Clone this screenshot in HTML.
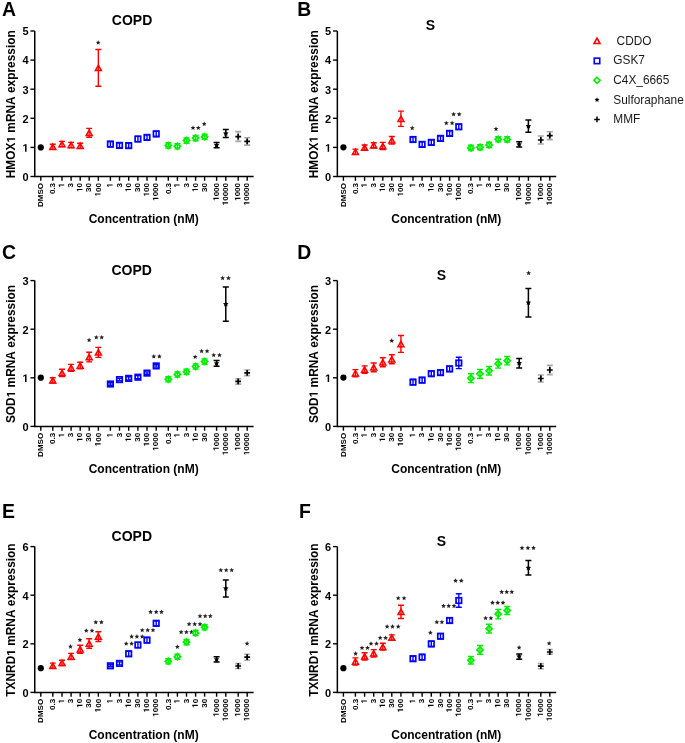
<!DOCTYPE html>
<html><head><meta charset="utf-8"><style>
html,body{margin:0;padding:0;background:#fff;}
body{width:685px;height:743px;overflow:hidden;}
svg{display:block;font-family:"Liberation Sans", sans-serif;will-change:transform;font-kerning:none;filter:blur(0.3px);}
text{white-space:pre;}
</style></head><body>
<svg width="685" height="743" viewBox="0 0 685 743">
<rect width="685" height="743" fill="#fff"/>
<text x="2" y="15.8" font-size="19.4" font-weight="bold">A</text>
<text x="132.1" y="25" font-size="14" font-weight="bold" text-anchor="middle">COPD</text>
<g transform="translate(15.1 104.25) rotate(-90)" font-size="11.9" font-weight="bold"><text x="-74.06" y="0">HMOX</text><path transform="translate(-38.36 0) scale(0.00581 -0.00581)" d="M478 0V1170L140 959V1180L493 1409H759V0Z"/><text x="-31.75" y="0"> mRNA expression</text></g>
<path d="M34.75 31V176.5H253.6" stroke="#000" stroke-width="1.5" fill="none"/>
<path d="M30.45 176.5H34.75" stroke="#000" stroke-width="1.4"/>
<g transform="translate(28.6 180.8)" font-size="11" font-weight="bold"><text x="-6.12" y="0">0</text></g>
<path d="M30.45 147.4H34.75" stroke="#000" stroke-width="1.4"/>
<g transform="translate(28.6 151.7)" font-size="11" font-weight="bold"><path transform="translate(-6.12 0) scale(0.00537 -0.00537)" d="M478 0V1170L140 959V1180L493 1409H759V0Z"/></g>
<path d="M30.45 118.3H34.75" stroke="#000" stroke-width="1.4"/>
<g transform="translate(28.6 122.6)" font-size="11" font-weight="bold"><text x="-6.12" y="0">2</text></g>
<path d="M30.45 89.2H34.75" stroke="#000" stroke-width="1.4"/>
<g transform="translate(28.6 93.5)" font-size="11" font-weight="bold"><text x="-6.12" y="0">3</text></g>
<path d="M30.45 60.1H34.75" stroke="#000" stroke-width="1.4"/>
<g transform="translate(28.6 64.4)" font-size="11" font-weight="bold"><text x="-6.12" y="0">4</text></g>
<path d="M30.45 31H34.75" stroke="#000" stroke-width="1.4"/>
<g transform="translate(28.6 35.3)" font-size="11" font-weight="bold"><text x="-6.12" y="0">5</text></g>
<path d="M40.8 176.5V180.8" stroke="#000" stroke-width="1.4"/>
<g transform="translate(43 183) rotate(-90)" font-size="8" font-weight="bold"><text x="-24" y="0">DMSO</text></g>
<path d="M52.8 176.5V180.8" stroke="#000" stroke-width="1.4"/>
<g transform="translate(55 183) rotate(-90)" font-size="8" font-weight="bold"><text x="-11.12" y="0">0.3</text></g>
<path d="M62 176.5V180.8" stroke="#000" stroke-width="1.4"/>
<g transform="translate(64.2 183) rotate(-90)" font-size="8" font-weight="bold"><path transform="translate(-4.45 0) scale(0.00391 -0.00391)" d="M478 0V1170L140 959V1180L493 1409H759V0Z"/></g>
<path d="M71.1 176.5V180.8" stroke="#000" stroke-width="1.4"/>
<g transform="translate(73.3 183) rotate(-90)" font-size="8" font-weight="bold"><text x="-4.45" y="0">3</text></g>
<path d="M80.2 176.5V180.8" stroke="#000" stroke-width="1.4"/>
<g transform="translate(82.4 183) rotate(-90)" font-size="8" font-weight="bold"><path transform="translate(-8.9 0) scale(0.00391 -0.00391)" d="M478 0V1170L140 959V1180L493 1409H759V0Z"/><text x="-4.45" y="0">0</text></g>
<path d="M89.2 176.5V180.8" stroke="#000" stroke-width="1.4"/>
<g transform="translate(91.4 183) rotate(-90)" font-size="8" font-weight="bold"><text x="-8.9" y="0">30</text></g>
<path d="M98.35 176.5V180.8" stroke="#000" stroke-width="1.4"/>
<g transform="translate(100.55 183) rotate(-90)" font-size="8" font-weight="bold"><path transform="translate(-13.35 0) scale(0.00391 -0.00391)" d="M478 0V1170L140 959V1180L493 1409H759V0Z"/><text x="-8.9" y="0">00</text></g>
<path d="M110.4 176.5V180.8" stroke="#000" stroke-width="1.4"/>
<g transform="translate(112.6 183) rotate(-90)" font-size="8" font-weight="bold"><path transform="translate(-4.45 0) scale(0.00391 -0.00391)" d="M478 0V1170L140 959V1180L493 1409H759V0Z"/></g>
<path d="M119.5 176.5V180.8" stroke="#000" stroke-width="1.4"/>
<g transform="translate(121.7 183) rotate(-90)" font-size="8" font-weight="bold"><text x="-4.45" y="0">3</text></g>
<path d="M128.7 176.5V180.8" stroke="#000" stroke-width="1.4"/>
<g transform="translate(130.9 183) rotate(-90)" font-size="8" font-weight="bold"><path transform="translate(-8.9 0) scale(0.00391 -0.00391)" d="M478 0V1170L140 959V1180L493 1409H759V0Z"/><text x="-4.45" y="0">0</text></g>
<path d="M137.9 176.5V180.8" stroke="#000" stroke-width="1.4"/>
<g transform="translate(140.1 183) rotate(-90)" font-size="8" font-weight="bold"><text x="-8.9" y="0">30</text></g>
<path d="M147 176.5V180.8" stroke="#000" stroke-width="1.4"/>
<g transform="translate(149.2 183) rotate(-90)" font-size="8" font-weight="bold"><path transform="translate(-13.35 0) scale(0.00391 -0.00391)" d="M478 0V1170L140 959V1180L493 1409H759V0Z"/><text x="-8.9" y="0">00</text></g>
<path d="M156.2 176.5V180.8" stroke="#000" stroke-width="1.4"/>
<g transform="translate(158.4 183) rotate(-90)" font-size="8" font-weight="bold"><path transform="translate(-17.8 0) scale(0.00391 -0.00391)" d="M478 0V1170L140 959V1180L493 1409H759V0Z"/><text x="-13.35" y="0">000</text></g>
<path d="M168.3 176.5V180.8" stroke="#000" stroke-width="1.4"/>
<g transform="translate(170.5 183) rotate(-90)" font-size="8" font-weight="bold"><text x="-11.12" y="0">0.3</text></g>
<path d="M177.4 176.5V180.8" stroke="#000" stroke-width="1.4"/>
<g transform="translate(179.6 183) rotate(-90)" font-size="8" font-weight="bold"><path transform="translate(-4.45 0) scale(0.00391 -0.00391)" d="M478 0V1170L140 959V1180L493 1409H759V0Z"/></g>
<path d="M186.5 176.5V180.8" stroke="#000" stroke-width="1.4"/>
<g transform="translate(188.7 183) rotate(-90)" font-size="8" font-weight="bold"><text x="-4.45" y="0">3</text></g>
<path d="M195.6 176.5V180.8" stroke="#000" stroke-width="1.4"/>
<g transform="translate(197.8 183) rotate(-90)" font-size="8" font-weight="bold"><path transform="translate(-8.9 0) scale(0.00391 -0.00391)" d="M478 0V1170L140 959V1180L493 1409H759V0Z"/><text x="-4.45" y="0">0</text></g>
<path d="M204.6 176.5V180.8" stroke="#000" stroke-width="1.4"/>
<g transform="translate(206.8 183) rotate(-90)" font-size="8" font-weight="bold"><text x="-8.9" y="0">30</text></g>
<path d="M216.6 176.5V180.8" stroke="#000" stroke-width="1.4"/>
<g transform="translate(218.8 183) rotate(-90)" font-size="8" font-weight="bold"><path transform="translate(-17.8 0) scale(0.00391 -0.00391)" d="M478 0V1170L140 959V1180L493 1409H759V0Z"/><text x="-13.35" y="0">000</text></g>
<path d="M225.8 176.5V180.8" stroke="#000" stroke-width="1.4"/>
<g transform="translate(228 183) rotate(-90)" font-size="8" font-weight="bold"><path transform="translate(-22.25 0) scale(0.00391 -0.00391)" d="M478 0V1170L140 959V1180L493 1409H759V0Z"/><text x="-17.8" y="0">0000</text></g>
<path d="M238.2 176.5V180.8" stroke="#000" stroke-width="1.4"/>
<g transform="translate(240.4 183) rotate(-90)" font-size="8" font-weight="bold"><path transform="translate(-17.8 0) scale(0.00391 -0.00391)" d="M478 0V1170L140 959V1180L493 1409H759V0Z"/><text x="-13.35" y="0">000</text></g>
<path d="M247.2 176.5V180.8" stroke="#000" stroke-width="1.4"/>
<g transform="translate(249.4 183) rotate(-90)" font-size="8" font-weight="bold"><path transform="translate(-22.25 0) scale(0.00391 -0.00391)" d="M478 0V1170L140 959V1180L493 1409H759V0Z"/><text x="-17.8" y="0">0000</text></g>
<text x="143.7" y="223" font-size="12" font-weight="bold" text-anchor="middle">Concentration (nM)</text>
<circle cx="40.8" cy="147.4" r="3.1" fill="#000"/>
<path d="M52.8 144.1L55.8 149.5L49.8 149.5Z" stroke="#ff0000" stroke-width="1.5" fill="#fff" stroke-linejoin="miter"/>
<path d="M52.8 144.2V149.4M49.8 144.2H55.8M49.8 149.4H55.8" stroke="#ff0000" stroke-width="1.4" fill="none"/>
<path d="M62 141.3L65 146.7L59 146.7Z" stroke="#ff0000" stroke-width="1.5" fill="#fff" stroke-linejoin="miter"/>
<path d="M62 141.4V146.6M59 141.4H65M59 146.6H65" stroke="#ff0000" stroke-width="1.4" fill="none"/>
<path d="M71.1 142.3L74.1 147.7L68.1 147.7Z" stroke="#ff0000" stroke-width="1.5" fill="#fff" stroke-linejoin="miter"/>
<path d="M71.1 142.4V147.6M68.1 142.4H74.1M68.1 147.6H74.1" stroke="#ff0000" stroke-width="1.4" fill="none"/>
<path d="M80.2 143.1L83.2 148.5L77.2 148.5Z" stroke="#ff0000" stroke-width="1.5" fill="#fff" stroke-linejoin="miter"/>
<path d="M80.2 143.2V148.4M77.2 143.2H83.2M77.2 148.4H83.2" stroke="#ff0000" stroke-width="1.4" fill="none"/>
<path d="M89.2 130.1L92.2 135.5L86.2 135.5Z" stroke="#ff0000" stroke-width="1.5" fill="#fff" stroke-linejoin="miter"/>
<path d="M89.2 128.4V137.2M86.2 128.4H92.2M86.2 137.2H92.2" stroke="#ff0000" stroke-width="1.4" fill="none"/>
<path d="M98.35 65.2L101.35 70.6L95.35 70.6Z" stroke="#ff0000" stroke-width="1.5" fill="#fff" stroke-linejoin="miter"/>
<path d="M98.35 49.5V86.3M95.35 49.5H101.35M95.35 86.3H101.35" stroke="#ff0000" stroke-width="1.4" fill="none"/>
<polygon points="98.2,40.18 98.88,41.76 100.6,41.92 99.3,43.06 99.68,44.74 98.2,43.86 96.72,44.74 97.1,43.06 95.8,41.92 97.52,41.76" fill="#222222"/>
<rect x="107.65" y="141.35" width="5.5" height="5.5" stroke="#0000ff" stroke-width="1.7" fill="#fff"/>
<path d="M110.4 141.5V146.7M107.4 141.5H113.4M107.4 146.7H113.4" stroke="#0000ff" stroke-width="1.4" fill="none"/>
<rect x="116.75" y="142.65" width="5.5" height="5.5" stroke="#0000ff" stroke-width="1.7" fill="#fff"/>
<path d="M119.5 142.8V148M116.5 142.8H122.5M116.5 148H122.5" stroke="#0000ff" stroke-width="1.4" fill="none"/>
<rect x="125.95" y="142.85" width="5.5" height="5.5" stroke="#0000ff" stroke-width="1.7" fill="#fff"/>
<path d="M128.7 143V148.2M125.7 143H131.7M125.7 148.2H131.7" stroke="#0000ff" stroke-width="1.4" fill="none"/>
<rect x="135.15" y="136.25" width="5.5" height="5.5" stroke="#0000ff" stroke-width="1.7" fill="#fff"/>
<path d="M137.9 136.4V141.6M134.9 136.4H140.9M134.9 141.6H140.9" stroke="#0000ff" stroke-width="1.4" fill="none"/>
<rect x="144.25" y="134.65" width="5.5" height="5.5" stroke="#0000ff" stroke-width="1.7" fill="#fff"/>
<path d="M147 134.8V140M144 134.8H150M144 140H150" stroke="#0000ff" stroke-width="1.4" fill="none"/>
<rect x="153.45" y="131.15" width="5.5" height="5.5" stroke="#0000ff" stroke-width="1.7" fill="#fff"/>
<path d="M156.2 131.3V136.5M153.2 131.3H159.2M153.2 136.5H159.2" stroke="#0000ff" stroke-width="1.4" fill="none"/>
<path d="M168.3 142.4L171.3 145.4L168.3 148.4L165.3 145.4Z" stroke="#00f000" stroke-width="1.8" fill="#fff"/>
<path d="M168.3 142.8V148M165.3 142.8H171.3M165.3 148H171.3" stroke="#00f000" stroke-width="1.4" fill="none"/>
<path d="M177.4 143.3L180.4 146.3L177.4 149.3L174.4 146.3Z" stroke="#00f000" stroke-width="1.8" fill="#fff"/>
<path d="M177.4 143.7V148.9M174.4 143.7H180.4M174.4 148.9H180.4" stroke="#00f000" stroke-width="1.4" fill="none"/>
<path d="M186.5 137.6L189.5 140.6L186.5 143.6L183.5 140.6Z" stroke="#00f000" stroke-width="1.8" fill="#fff"/>
<path d="M186.5 138V143.2M183.5 138H189.5M183.5 143.2H189.5" stroke="#00f000" stroke-width="1.4" fill="none"/>
<path d="M195.6 135.1L198.6 138.1L195.6 141.1L192.6 138.1Z" stroke="#00f000" stroke-width="1.8" fill="#fff"/>
<path d="M195.6 135.5V140.7M192.6 135.5H198.6M192.6 140.7H198.6" stroke="#00f000" stroke-width="1.4" fill="none"/>
<polygon points="193,125.38 193.68,126.96 195.4,127.12 194.1,128.26 194.48,129.94 193,129.06 191.52,129.94 191.9,128.26 190.6,127.12 192.32,126.96" fill="#222222"/>
<polygon points="198.3,125.38 198.98,126.96 200.7,127.12 199.4,128.26 199.78,129.94 198.3,129.06 196.82,129.94 197.2,128.26 195.9,127.12 197.62,126.96" fill="#222222"/>
<path d="M204.6 133.8L207.6 136.8L204.6 139.8L201.6 136.8Z" stroke="#00f000" stroke-width="1.8" fill="#fff"/>
<path d="M204.6 134.2V139.4M201.6 134.2H207.6M201.6 139.4H207.6" stroke="#00f000" stroke-width="1.4" fill="none"/>
<polygon points="204.2,121.48 204.88,123.06 206.6,123.22 205.3,124.36 205.68,126.04 204.2,125.16 202.72,126.04 203.1,124.36 201.8,123.22 203.52,123.06" fill="#222222"/>
<path d="M216.6 142.6V147.8M213.6 142.6H219.6M213.6 147.8H219.6" stroke="#000000" stroke-width="1.5" fill="none"/>
<polygon points="216.6,142.3 217.45,144.03 219.36,144.3 217.98,145.65 218.3,147.55 216.6,146.65 214.9,147.55 215.22,145.65 213.84,144.3 215.75,144.03" fill="#000"/>
<path d="M225.8 129.4V137.6M222.8 129.4H228.8M222.8 137.6H228.8" stroke="#000000" stroke-width="1.5" fill="none"/>
<polygon points="225.8,130.6 226.65,132.33 228.56,132.6 227.18,133.95 227.5,135.85 225.8,134.95 224.1,135.85 224.42,133.95 223.04,132.6 224.95,132.33" fill="#000"/>
<path d="M238.2 131.6V141.4M235.2 131.6H241.2M235.2 141.4H241.2" stroke="#a8a8a8" stroke-width="1.6" fill="none"/>
<path d="M235.3 136.6H241.1M238.2 133.7V139.5" stroke="#000" stroke-width="1.7"/>
<path d="M247.2 137.7V145.1M244.2 137.7H250.2M244.2 145.1H250.2" stroke="#a8a8a8" stroke-width="1.6" fill="none"/>
<path d="M244.3 141.4H250.1M247.2 138.5V144.3" stroke="#000" stroke-width="1.7"/>
<text x="297.3" y="16" font-size="19.4" font-weight="bold">B</text>
<text x="430.3" y="30.2" font-size="14" font-weight="bold" text-anchor="middle">S</text>
<g transform="translate(317.7 104.25) rotate(-90)" font-size="11.9" font-weight="bold"><text x="-74.06" y="0">HMOX</text><path transform="translate(-38.36 0) scale(0.00581 -0.00581)" d="M478 0V1170L140 959V1180L493 1409H759V0Z"/><text x="-31.75" y="0"> mRNA expression</text></g>
<path d="M337.35 31V176.5H556.2" stroke="#000" stroke-width="1.5" fill="none"/>
<path d="M333.05 176.5H337.35" stroke="#000" stroke-width="1.4"/>
<g transform="translate(331.2 180.8)" font-size="11" font-weight="bold"><text x="-6.12" y="0">0</text></g>
<path d="M333.05 147.4H337.35" stroke="#000" stroke-width="1.4"/>
<g transform="translate(331.2 151.7)" font-size="11" font-weight="bold"><path transform="translate(-6.12 0) scale(0.00537 -0.00537)" d="M478 0V1170L140 959V1180L493 1409H759V0Z"/></g>
<path d="M333.05 118.3H337.35" stroke="#000" stroke-width="1.4"/>
<g transform="translate(331.2 122.6)" font-size="11" font-weight="bold"><text x="-6.12" y="0">2</text></g>
<path d="M333.05 89.2H337.35" stroke="#000" stroke-width="1.4"/>
<g transform="translate(331.2 93.5)" font-size="11" font-weight="bold"><text x="-6.12" y="0">3</text></g>
<path d="M333.05 60.1H337.35" stroke="#000" stroke-width="1.4"/>
<g transform="translate(331.2 64.4)" font-size="11" font-weight="bold"><text x="-6.12" y="0">4</text></g>
<path d="M333.05 31H337.35" stroke="#000" stroke-width="1.4"/>
<g transform="translate(331.2 35.3)" font-size="11" font-weight="bold"><text x="-6.12" y="0">5</text></g>
<path d="M343.4 176.5V180.8" stroke="#000" stroke-width="1.4"/>
<g transform="translate(345.6 183) rotate(-90)" font-size="8" font-weight="bold"><text x="-24" y="0">DMSO</text></g>
<path d="M355.4 176.5V180.8" stroke="#000" stroke-width="1.4"/>
<g transform="translate(357.6 183) rotate(-90)" font-size="8" font-weight="bold"><text x="-11.12" y="0">0.3</text></g>
<path d="M364.6 176.5V180.8" stroke="#000" stroke-width="1.4"/>
<g transform="translate(366.8 183) rotate(-90)" font-size="8" font-weight="bold"><path transform="translate(-4.45 0) scale(0.00391 -0.00391)" d="M478 0V1170L140 959V1180L493 1409H759V0Z"/></g>
<path d="M373.7 176.5V180.8" stroke="#000" stroke-width="1.4"/>
<g transform="translate(375.9 183) rotate(-90)" font-size="8" font-weight="bold"><text x="-4.45" y="0">3</text></g>
<path d="M382.8 176.5V180.8" stroke="#000" stroke-width="1.4"/>
<g transform="translate(385 183) rotate(-90)" font-size="8" font-weight="bold"><path transform="translate(-8.9 0) scale(0.00391 -0.00391)" d="M478 0V1170L140 959V1180L493 1409H759V0Z"/><text x="-4.45" y="0">0</text></g>
<path d="M391.8 176.5V180.8" stroke="#000" stroke-width="1.4"/>
<g transform="translate(394 183) rotate(-90)" font-size="8" font-weight="bold"><text x="-8.9" y="0">30</text></g>
<path d="M400.95 176.5V180.8" stroke="#000" stroke-width="1.4"/>
<g transform="translate(403.15 183) rotate(-90)" font-size="8" font-weight="bold"><path transform="translate(-13.35 0) scale(0.00391 -0.00391)" d="M478 0V1170L140 959V1180L493 1409H759V0Z"/><text x="-8.9" y="0">00</text></g>
<path d="M413 176.5V180.8" stroke="#000" stroke-width="1.4"/>
<g transform="translate(415.2 183) rotate(-90)" font-size="8" font-weight="bold"><path transform="translate(-4.45 0) scale(0.00391 -0.00391)" d="M478 0V1170L140 959V1180L493 1409H759V0Z"/></g>
<path d="M422.1 176.5V180.8" stroke="#000" stroke-width="1.4"/>
<g transform="translate(424.3 183) rotate(-90)" font-size="8" font-weight="bold"><text x="-4.45" y="0">3</text></g>
<path d="M431.3 176.5V180.8" stroke="#000" stroke-width="1.4"/>
<g transform="translate(433.5 183) rotate(-90)" font-size="8" font-weight="bold"><path transform="translate(-8.9 0) scale(0.00391 -0.00391)" d="M478 0V1170L140 959V1180L493 1409H759V0Z"/><text x="-4.45" y="0">0</text></g>
<path d="M440.5 176.5V180.8" stroke="#000" stroke-width="1.4"/>
<g transform="translate(442.7 183) rotate(-90)" font-size="8" font-weight="bold"><text x="-8.9" y="0">30</text></g>
<path d="M449.6 176.5V180.8" stroke="#000" stroke-width="1.4"/>
<g transform="translate(451.8 183) rotate(-90)" font-size="8" font-weight="bold"><path transform="translate(-13.35 0) scale(0.00391 -0.00391)" d="M478 0V1170L140 959V1180L493 1409H759V0Z"/><text x="-8.9" y="0">00</text></g>
<path d="M458.8 176.5V180.8" stroke="#000" stroke-width="1.4"/>
<g transform="translate(461 183) rotate(-90)" font-size="8" font-weight="bold"><path transform="translate(-17.8 0) scale(0.00391 -0.00391)" d="M478 0V1170L140 959V1180L493 1409H759V0Z"/><text x="-13.35" y="0">000</text></g>
<path d="M470.9 176.5V180.8" stroke="#000" stroke-width="1.4"/>
<g transform="translate(473.1 183) rotate(-90)" font-size="8" font-weight="bold"><text x="-11.12" y="0">0.3</text></g>
<path d="M480 176.5V180.8" stroke="#000" stroke-width="1.4"/>
<g transform="translate(482.2 183) rotate(-90)" font-size="8" font-weight="bold"><path transform="translate(-4.45 0) scale(0.00391 -0.00391)" d="M478 0V1170L140 959V1180L493 1409H759V0Z"/></g>
<path d="M489.1 176.5V180.8" stroke="#000" stroke-width="1.4"/>
<g transform="translate(491.3 183) rotate(-90)" font-size="8" font-weight="bold"><text x="-4.45" y="0">3</text></g>
<path d="M498.2 176.5V180.8" stroke="#000" stroke-width="1.4"/>
<g transform="translate(500.4 183) rotate(-90)" font-size="8" font-weight="bold"><path transform="translate(-8.9 0) scale(0.00391 -0.00391)" d="M478 0V1170L140 959V1180L493 1409H759V0Z"/><text x="-4.45" y="0">0</text></g>
<path d="M507.2 176.5V180.8" stroke="#000" stroke-width="1.4"/>
<g transform="translate(509.4 183) rotate(-90)" font-size="8" font-weight="bold"><text x="-8.9" y="0">30</text></g>
<path d="M519.2 176.5V180.8" stroke="#000" stroke-width="1.4"/>
<g transform="translate(521.4 183) rotate(-90)" font-size="8" font-weight="bold"><path transform="translate(-17.8 0) scale(0.00391 -0.00391)" d="M478 0V1170L140 959V1180L493 1409H759V0Z"/><text x="-13.35" y="0">000</text></g>
<path d="M528.4 176.5V180.8" stroke="#000" stroke-width="1.4"/>
<g transform="translate(530.6 183) rotate(-90)" font-size="8" font-weight="bold"><path transform="translate(-22.25 0) scale(0.00391 -0.00391)" d="M478 0V1170L140 959V1180L493 1409H759V0Z"/><text x="-17.8" y="0">0000</text></g>
<path d="M540.8 176.5V180.8" stroke="#000" stroke-width="1.4"/>
<g transform="translate(543 183) rotate(-90)" font-size="8" font-weight="bold"><path transform="translate(-17.8 0) scale(0.00391 -0.00391)" d="M478 0V1170L140 959V1180L493 1409H759V0Z"/><text x="-13.35" y="0">000</text></g>
<path d="M549.8 176.5V180.8" stroke="#000" stroke-width="1.4"/>
<g transform="translate(552 183) rotate(-90)" font-size="8" font-weight="bold"><path transform="translate(-22.25 0) scale(0.00391 -0.00391)" d="M478 0V1170L140 959V1180L493 1409H759V0Z"/><text x="-17.8" y="0">0000</text></g>
<text x="446.3" y="223" font-size="12" font-weight="bold" text-anchor="middle">Concentration (nM)</text>
<circle cx="343.4" cy="147.3" r="3.1" fill="#000"/>
<path d="M355.4 149L358.4 154.4L352.4 154.4Z" stroke="#ff0000" stroke-width="1.5" fill="#fff" stroke-linejoin="miter"/>
<path d="M355.4 149.1V154.3M352.4 149.1H358.4M352.4 154.3H358.4" stroke="#ff0000" stroke-width="1.4" fill="none"/>
<path d="M364.6 144.9L367.6 150.3L361.6 150.3Z" stroke="#ff0000" stroke-width="1.5" fill="#fff" stroke-linejoin="miter"/>
<path d="M364.6 145V150.2M361.6 145H367.6M361.6 150.2H367.6" stroke="#ff0000" stroke-width="1.4" fill="none"/>
<path d="M373.7 142.6L376.7 148L370.7 148Z" stroke="#ff0000" stroke-width="1.5" fill="#fff" stroke-linejoin="miter"/>
<path d="M373.7 142.7V147.9M370.7 142.7H376.7M370.7 147.9H376.7" stroke="#ff0000" stroke-width="1.4" fill="none"/>
<path d="M382.8 143.4L385.8 148.8L379.8 148.8Z" stroke="#ff0000" stroke-width="1.5" fill="#fff" stroke-linejoin="miter"/>
<path d="M382.8 142.4V149.6M379.8 142.4H385.8M379.8 149.6H385.8" stroke="#ff0000" stroke-width="1.4" fill="none"/>
<path d="M391.8 137.7L394.8 143.1L388.8 143.1Z" stroke="#ff0000" stroke-width="1.5" fill="#fff" stroke-linejoin="miter"/>
<path d="M391.8 136.5V144.1M388.8 136.5H394.8M388.8 144.1H394.8" stroke="#ff0000" stroke-width="1.4" fill="none"/>
<path d="M400.95 116.1L403.95 121.5L397.95 121.5Z" stroke="#ff0000" stroke-width="1.5" fill="#fff" stroke-linejoin="miter"/>
<path d="M400.95 111.1V126.4M397.95 111.1H403.95M397.95 126.4H403.95" stroke="#ff0000" stroke-width="1.4" fill="none"/>
<rect x="410.25" y="136.75" width="5.5" height="5.5" stroke="#0000ff" stroke-width="1.7" fill="#fff"/>
<path d="M413 136.9V142.1M410 136.9H416M410 142.1H416" stroke="#0000ff" stroke-width="1.4" fill="none"/>
<polygon points="412.2,125.58 412.88,127.16 414.6,127.32 413.3,128.46 413.68,130.14 412.2,129.26 410.72,130.14 411.1,128.46 409.8,127.32 411.52,127.16" fill="#222222"/>
<rect x="419.35" y="141.65" width="5.5" height="5.5" stroke="#0000ff" stroke-width="1.7" fill="#fff"/>
<path d="M422.1 141.8V147M419.1 141.8H425.1M419.1 147H425.1" stroke="#0000ff" stroke-width="1.4" fill="none"/>
<rect x="428.55" y="139.65" width="5.5" height="5.5" stroke="#0000ff" stroke-width="1.7" fill="#fff"/>
<path d="M431.3 139.8V145M428.3 139.8H434.3M428.3 145H434.3" stroke="#0000ff" stroke-width="1.4" fill="none"/>
<rect x="437.75" y="135.65" width="5.5" height="5.5" stroke="#0000ff" stroke-width="1.7" fill="#fff"/>
<path d="M440.5 135.8V141M437.5 135.8H443.5M437.5 141H443.5" stroke="#0000ff" stroke-width="1.4" fill="none"/>
<rect x="446.85" y="130.65" width="5.5" height="5.5" stroke="#0000ff" stroke-width="1.7" fill="#fff"/>
<path d="M449.6 130.8V136M446.6 130.8H452.6M446.6 136H452.6" stroke="#0000ff" stroke-width="1.4" fill="none"/>
<polygon points="446.3,120.58 446.98,122.16 448.7,122.32 447.4,123.46 447.78,125.14 446.3,124.26 444.82,125.14 445.2,123.46 443.9,122.32 445.62,122.16" fill="#222222"/>
<polygon points="452.1,120.58 452.78,122.16 454.5,122.32 453.2,123.46 453.58,125.14 452.1,124.26 450.62,125.14 451,123.46 449.7,122.32 451.42,122.16" fill="#222222"/>
<rect x="456.05" y="124.05" width="5.5" height="5.5" stroke="#0000ff" stroke-width="1.7" fill="#fff"/>
<path d="M458.8 124.2V129.4M455.8 124.2H461.8M455.8 129.4H461.8" stroke="#0000ff" stroke-width="1.4" fill="none"/>
<polygon points="453.6,111.78 454.28,113.36 456,113.52 454.7,114.66 455.08,116.34 453.6,115.46 452.12,116.34 452.5,114.66 451.2,113.52 452.92,113.36" fill="#222222"/>
<polygon points="459.2,111.78 459.88,113.36 461.6,113.52 460.3,114.66 460.68,116.34 459.2,115.46 457.72,116.34 458.1,114.66 456.8,113.52 458.52,113.36" fill="#222222"/>
<path d="M470.9 144.9L473.9 147.9L470.9 150.9L467.9 147.9Z" stroke="#00f000" stroke-width="1.8" fill="#fff"/>
<path d="M470.9 145.3V150.5M467.9 145.3H473.9M467.9 150.5H473.9" stroke="#00f000" stroke-width="1.4" fill="none"/>
<path d="M480 144.2L483 147.2L480 150.2L477 147.2Z" stroke="#00f000" stroke-width="1.8" fill="#fff"/>
<path d="M480 144.6V149.8M477 144.6H483M477 149.8H483" stroke="#00f000" stroke-width="1.4" fill="none"/>
<path d="M489.1 141.9L492.1 144.9L489.1 147.9L486.1 144.9Z" stroke="#00f000" stroke-width="1.8" fill="#fff"/>
<path d="M489.1 142.3V147.5M486.1 142.3H492.1M486.1 147.5H492.1" stroke="#00f000" stroke-width="1.4" fill="none"/>
<path d="M498.2 136.3L501.2 139.3L498.2 142.3L495.2 139.3Z" stroke="#00f000" stroke-width="1.8" fill="#fff"/>
<path d="M498.2 136.7V141.9M495.2 136.7H501.2M495.2 141.9H501.2" stroke="#00f000" stroke-width="1.4" fill="none"/>
<polygon points="496,126.48 496.68,128.06 498.4,128.22 497.1,129.36 497.48,131.04 496,130.16 494.52,131.04 494.9,129.36 493.6,128.22 495.32,128.06" fill="#222222"/>
<path d="M507.2 136.4L510.2 139.4L507.2 142.4L504.2 139.4Z" stroke="#00f000" stroke-width="1.8" fill="#fff"/>
<path d="M507.2 136.8V142M504.2 136.8H510.2M504.2 142H510.2" stroke="#00f000" stroke-width="1.4" fill="none"/>
<path d="M519.2 141.7V147.1M516.2 141.7H522.2M516.2 147.1H522.2" stroke="#000000" stroke-width="1.5" fill="none"/>
<polygon points="519.2,141.6 520.05,143.33 521.96,143.6 520.58,144.95 520.9,146.85 519.2,145.95 517.5,146.85 517.82,144.95 516.44,143.6 518.35,143.33" fill="#000"/>
<path d="M528.4 120V132.3M525.4 120H531.4M525.4 132.3H531.4" stroke="#000000" stroke-width="1.5" fill="none"/>
<polygon points="528.4,123.3 529.25,125.03 531.16,125.3 529.78,126.65 530.1,128.55 528.4,127.65 526.7,128.55 527.02,126.65 525.64,125.3 527.55,125.03" fill="#000"/>
<path d="M540.8 136V144M537.8 136H543.8M537.8 144H543.8" stroke="#a8a8a8" stroke-width="1.6" fill="none"/>
<path d="M537.9 140H543.7M540.8 137.1V142.9" stroke="#000" stroke-width="1.7"/>
<path d="M549.8 131.7V139.6M546.8 131.7H552.8M546.8 139.6H552.8" stroke="#a8a8a8" stroke-width="1.6" fill="none"/>
<path d="M546.9 135.7H552.7M549.8 132.8V138.6" stroke="#000" stroke-width="1.7"/>
<text x="2" y="259" font-size="19.4" font-weight="bold">C</text>
<text x="131.7" y="274.8" font-size="14" font-weight="bold" text-anchor="middle">COPD</text>
<g transform="translate(15.1 354) rotate(-90)" font-size="11.9" font-weight="bold"><text x="-69.11" y="0">SOD</text><path transform="translate(-43.32 0) scale(0.00581 -0.00581)" d="M478 0V1170L140 959V1180L493 1409H759V0Z"/><text x="-36.7" y="0"> mRNA expression</text></g>
<path d="M34.75 280.6V426.4H253.6" stroke="#000" stroke-width="1.5" fill="none"/>
<path d="M30.45 426.4H34.75" stroke="#000" stroke-width="1.4"/>
<g transform="translate(28.6 430.7)" font-size="11" font-weight="bold"><text x="-6.12" y="0">0</text></g>
<path d="M30.45 377.8H34.75" stroke="#000" stroke-width="1.4"/>
<g transform="translate(28.6 382.1)" font-size="11" font-weight="bold"><path transform="translate(-6.12 0) scale(0.00537 -0.00537)" d="M478 0V1170L140 959V1180L493 1409H759V0Z"/></g>
<path d="M30.45 329.2H34.75" stroke="#000" stroke-width="1.4"/>
<g transform="translate(28.6 333.5)" font-size="11" font-weight="bold"><text x="-6.12" y="0">2</text></g>
<path d="M30.45 280.6H34.75" stroke="#000" stroke-width="1.4"/>
<g transform="translate(28.6 284.9)" font-size="11" font-weight="bold"><text x="-6.12" y="0">3</text></g>
<path d="M40.8 426.4V430.7" stroke="#000" stroke-width="1.4"/>
<g transform="translate(43 432.9) rotate(-90)" font-size="8" font-weight="bold"><text x="-24" y="0">DMSO</text></g>
<path d="M52.8 426.4V430.7" stroke="#000" stroke-width="1.4"/>
<g transform="translate(55 432.9) rotate(-90)" font-size="8" font-weight="bold"><text x="-11.12" y="0">0.3</text></g>
<path d="M62 426.4V430.7" stroke="#000" stroke-width="1.4"/>
<g transform="translate(64.2 432.9) rotate(-90)" font-size="8" font-weight="bold"><path transform="translate(-4.45 0) scale(0.00391 -0.00391)" d="M478 0V1170L140 959V1180L493 1409H759V0Z"/></g>
<path d="M71.1 426.4V430.7" stroke="#000" stroke-width="1.4"/>
<g transform="translate(73.3 432.9) rotate(-90)" font-size="8" font-weight="bold"><text x="-4.45" y="0">3</text></g>
<path d="M80.2 426.4V430.7" stroke="#000" stroke-width="1.4"/>
<g transform="translate(82.4 432.9) rotate(-90)" font-size="8" font-weight="bold"><path transform="translate(-8.9 0) scale(0.00391 -0.00391)" d="M478 0V1170L140 959V1180L493 1409H759V0Z"/><text x="-4.45" y="0">0</text></g>
<path d="M89.2 426.4V430.7" stroke="#000" stroke-width="1.4"/>
<g transform="translate(91.4 432.9) rotate(-90)" font-size="8" font-weight="bold"><text x="-8.9" y="0">30</text></g>
<path d="M98.35 426.4V430.7" stroke="#000" stroke-width="1.4"/>
<g transform="translate(100.55 432.9) rotate(-90)" font-size="8" font-weight="bold"><path transform="translate(-13.35 0) scale(0.00391 -0.00391)" d="M478 0V1170L140 959V1180L493 1409H759V0Z"/><text x="-8.9" y="0">00</text></g>
<path d="M110.4 426.4V430.7" stroke="#000" stroke-width="1.4"/>
<g transform="translate(112.6 432.9) rotate(-90)" font-size="8" font-weight="bold"><path transform="translate(-4.45 0) scale(0.00391 -0.00391)" d="M478 0V1170L140 959V1180L493 1409H759V0Z"/></g>
<path d="M119.5 426.4V430.7" stroke="#000" stroke-width="1.4"/>
<g transform="translate(121.7 432.9) rotate(-90)" font-size="8" font-weight="bold"><text x="-4.45" y="0">3</text></g>
<path d="M128.7 426.4V430.7" stroke="#000" stroke-width="1.4"/>
<g transform="translate(130.9 432.9) rotate(-90)" font-size="8" font-weight="bold"><path transform="translate(-8.9 0) scale(0.00391 -0.00391)" d="M478 0V1170L140 959V1180L493 1409H759V0Z"/><text x="-4.45" y="0">0</text></g>
<path d="M137.9 426.4V430.7" stroke="#000" stroke-width="1.4"/>
<g transform="translate(140.1 432.9) rotate(-90)" font-size="8" font-weight="bold"><text x="-8.9" y="0">30</text></g>
<path d="M147 426.4V430.7" stroke="#000" stroke-width="1.4"/>
<g transform="translate(149.2 432.9) rotate(-90)" font-size="8" font-weight="bold"><path transform="translate(-13.35 0) scale(0.00391 -0.00391)" d="M478 0V1170L140 959V1180L493 1409H759V0Z"/><text x="-8.9" y="0">00</text></g>
<path d="M156.2 426.4V430.7" stroke="#000" stroke-width="1.4"/>
<g transform="translate(158.4 432.9) rotate(-90)" font-size="8" font-weight="bold"><path transform="translate(-17.8 0) scale(0.00391 -0.00391)" d="M478 0V1170L140 959V1180L493 1409H759V0Z"/><text x="-13.35" y="0">000</text></g>
<path d="M168.3 426.4V430.7" stroke="#000" stroke-width="1.4"/>
<g transform="translate(170.5 432.9) rotate(-90)" font-size="8" font-weight="bold"><text x="-11.12" y="0">0.3</text></g>
<path d="M177.4 426.4V430.7" stroke="#000" stroke-width="1.4"/>
<g transform="translate(179.6 432.9) rotate(-90)" font-size="8" font-weight="bold"><path transform="translate(-4.45 0) scale(0.00391 -0.00391)" d="M478 0V1170L140 959V1180L493 1409H759V0Z"/></g>
<path d="M186.5 426.4V430.7" stroke="#000" stroke-width="1.4"/>
<g transform="translate(188.7 432.9) rotate(-90)" font-size="8" font-weight="bold"><text x="-4.45" y="0">3</text></g>
<path d="M195.6 426.4V430.7" stroke="#000" stroke-width="1.4"/>
<g transform="translate(197.8 432.9) rotate(-90)" font-size="8" font-weight="bold"><path transform="translate(-8.9 0) scale(0.00391 -0.00391)" d="M478 0V1170L140 959V1180L493 1409H759V0Z"/><text x="-4.45" y="0">0</text></g>
<path d="M204.6 426.4V430.7" stroke="#000" stroke-width="1.4"/>
<g transform="translate(206.8 432.9) rotate(-90)" font-size="8" font-weight="bold"><text x="-8.9" y="0">30</text></g>
<path d="M216.6 426.4V430.7" stroke="#000" stroke-width="1.4"/>
<g transform="translate(218.8 432.9) rotate(-90)" font-size="8" font-weight="bold"><path transform="translate(-17.8 0) scale(0.00391 -0.00391)" d="M478 0V1170L140 959V1180L493 1409H759V0Z"/><text x="-13.35" y="0">000</text></g>
<path d="M225.8 426.4V430.7" stroke="#000" stroke-width="1.4"/>
<g transform="translate(228 432.9) rotate(-90)" font-size="8" font-weight="bold"><path transform="translate(-22.25 0) scale(0.00391 -0.00391)" d="M478 0V1170L140 959V1180L493 1409H759V0Z"/><text x="-17.8" y="0">0000</text></g>
<path d="M238.2 426.4V430.7" stroke="#000" stroke-width="1.4"/>
<g transform="translate(240.4 432.9) rotate(-90)" font-size="8" font-weight="bold"><path transform="translate(-17.8 0) scale(0.00391 -0.00391)" d="M478 0V1170L140 959V1180L493 1409H759V0Z"/><text x="-13.35" y="0">000</text></g>
<path d="M247.2 426.4V430.7" stroke="#000" stroke-width="1.4"/>
<g transform="translate(249.4 432.9) rotate(-90)" font-size="8" font-weight="bold"><path transform="translate(-22.25 0) scale(0.00391 -0.00391)" d="M478 0V1170L140 959V1180L493 1409H759V0Z"/><text x="-17.8" y="0">0000</text></g>
<text x="143.7" y="472.9" font-size="12" font-weight="bold" text-anchor="middle">Concentration (nM)</text>
<circle cx="40.8" cy="377.7" r="3.1" fill="#000"/>
<path d="M52.8 377.7L55.8 383.1L49.8 383.1Z" stroke="#ff0000" stroke-width="1.5" fill="#fff" stroke-linejoin="miter"/>
<path d="M52.8 377.8V383M49.8 377.8H55.8M49.8 383H55.8" stroke="#ff0000" stroke-width="1.4" fill="none"/>
<path d="M62 370.2L65 375.6L59 375.6Z" stroke="#ff0000" stroke-width="1.5" fill="#fff" stroke-linejoin="miter"/>
<path d="M62 369.3V376.5M59 369.3H65M59 376.5H65" stroke="#ff0000" stroke-width="1.4" fill="none"/>
<path d="M71.1 365.1L74.1 370.5L68.1 370.5Z" stroke="#ff0000" stroke-width="1.5" fill="#fff" stroke-linejoin="miter"/>
<path d="M71.1 364.4V371.2M68.1 364.4H74.1M68.1 371.2H74.1" stroke="#ff0000" stroke-width="1.4" fill="none"/>
<path d="M80.2 362.8L83.2 368.2L77.2 368.2Z" stroke="#ff0000" stroke-width="1.5" fill="#fff" stroke-linejoin="miter"/>
<path d="M80.2 362.2V368.8M77.2 362.2H83.2M77.2 368.8H83.2" stroke="#ff0000" stroke-width="1.4" fill="none"/>
<path d="M89.2 354.4L92.2 359.8L86.2 359.8Z" stroke="#ff0000" stroke-width="1.5" fill="#fff" stroke-linejoin="miter"/>
<path d="M89.2 352.3V361.9M86.2 352.3H92.2M86.2 361.9H92.2" stroke="#ff0000" stroke-width="1.4" fill="none"/>
<polygon points="89.1,337.68 89.78,339.26 91.5,339.42 90.2,340.56 90.58,342.24 89.1,341.36 87.62,342.24 88,340.56 86.7,339.42 88.42,339.26" fill="#222222"/>
<path d="M98.35 349.7L101.35 355.1L95.35 355.1Z" stroke="#ff0000" stroke-width="1.5" fill="#fff" stroke-linejoin="miter"/>
<path d="M98.35 347.4V357.4M95.35 347.4H101.35M95.35 357.4H101.35" stroke="#ff0000" stroke-width="1.4" fill="none"/>
<polygon points="96.3,334.88 96.98,336.46 98.7,336.62 97.4,337.76 97.78,339.44 96.3,338.56 94.82,339.44 95.2,337.76 93.9,336.62 95.62,336.46" fill="#222222"/>
<polygon points="101.7,334.88 102.38,336.46 104.1,336.62 102.8,337.76 103.18,339.44 101.7,338.56 100.22,339.44 100.6,337.76 99.3,336.62 101.02,336.46" fill="#222222"/>
<rect x="107.65" y="381.25" width="5.5" height="5.5" stroke="#0000ff" stroke-width="1.7" fill="#fff"/>
<path d="M110.4 382.8V385.2M107.4 382.8H113.4M107.4 385.2H113.4" stroke="#0000ff" stroke-width="1.4" fill="none"/>
<rect x="116.75" y="376.85" width="5.5" height="5.5" stroke="#0000ff" stroke-width="1.7" fill="#fff"/>
<path d="M119.5 378.4V380.8M116.5 378.4H122.5M116.5 380.8H122.5" stroke="#0000ff" stroke-width="1.4" fill="none"/>
<rect x="125.95" y="375.65" width="5.5" height="5.5" stroke="#0000ff" stroke-width="1.7" fill="#fff"/>
<path d="M128.7 376.8V380M125.7 376.8H131.7M125.7 380H131.7" stroke="#0000ff" stroke-width="1.4" fill="none"/>
<rect x="135.15" y="374.45" width="5.5" height="5.5" stroke="#0000ff" stroke-width="1.7" fill="#fff"/>
<path d="M137.9 375.6V378.8M134.9 375.6H140.9M134.9 378.8H140.9" stroke="#0000ff" stroke-width="1.4" fill="none"/>
<rect x="144.25" y="370.35" width="5.5" height="5.5" stroke="#0000ff" stroke-width="1.7" fill="#fff"/>
<path d="M147 371.9V374.3M144 371.9H150M144 374.3H150" stroke="#0000ff" stroke-width="1.4" fill="none"/>
<rect x="153.45" y="363.15" width="5.5" height="5.5" stroke="#0000ff" stroke-width="1.7" fill="#fff"/>
<path d="M156.2 364.7V367.1M153.2 364.7H159.2M153.2 367.1H159.2" stroke="#0000ff" stroke-width="1.4" fill="none"/>
<polygon points="153.8,353.98 154.48,355.56 156.2,355.72 154.9,356.86 155.28,358.54 153.8,357.66 152.32,358.54 152.7,356.86 151.4,355.72 153.12,355.56" fill="#222222"/>
<polygon points="159.4,353.98 160.08,355.56 161.8,355.72 160.5,356.86 160.88,358.54 159.4,357.66 157.92,358.54 158.3,356.86 157,355.72 158.72,355.56" fill="#222222"/>
<path d="M168.3 376.3L171.3 379.3L168.3 382.3L165.3 379.3Z" stroke="#00f000" stroke-width="1.8" fill="#fff"/>
<path d="M168.3 376.7V381.9M165.3 376.7H171.3M165.3 381.9H171.3" stroke="#00f000" stroke-width="1.4" fill="none"/>
<path d="M177.4 371.5L180.4 374.5L177.4 377.5L174.4 374.5Z" stroke="#00f000" stroke-width="1.8" fill="#fff"/>
<path d="M177.4 371.9V377.1M174.4 371.9H180.4M174.4 377.1H180.4" stroke="#00f000" stroke-width="1.4" fill="none"/>
<path d="M186.5 368.8L189.5 371.8L186.5 374.8L183.5 371.8Z" stroke="#00f000" stroke-width="1.8" fill="#fff"/>
<path d="M186.5 369.2V374.4M183.5 369.2H189.5M183.5 374.4H189.5" stroke="#00f000" stroke-width="1.4" fill="none"/>
<path d="M195.6 363.5L198.6 366.5L195.6 369.5L192.6 366.5Z" stroke="#00f000" stroke-width="1.8" fill="#fff"/>
<path d="M195.6 363.9V369.1M192.6 363.9H198.6M192.6 369.1H198.6" stroke="#00f000" stroke-width="1.4" fill="none"/>
<polygon points="195.2,354.38 195.88,355.96 197.6,356.12 196.3,357.26 196.68,358.94 195.2,358.06 193.72,358.94 194.1,357.26 192.8,356.12 194.52,355.96" fill="#222222"/>
<path d="M204.6 358.6L207.6 361.6L204.6 364.6L201.6 361.6Z" stroke="#00f000" stroke-width="1.8" fill="#fff"/>
<path d="M204.6 359V364.2M201.6 359H207.6M201.6 364.2H207.6" stroke="#00f000" stroke-width="1.4" fill="none"/>
<polygon points="201.6,348.68 202.28,350.26 204,350.42 202.7,351.56 203.08,353.24 201.6,352.36 200.12,353.24 200.5,351.56 199.2,350.42 200.92,350.26" fill="#222222"/>
<polygon points="207.1,348.68 207.78,350.26 209.5,350.42 208.2,351.56 208.58,353.24 207.1,352.36 205.62,353.24 206,351.56 204.7,350.42 206.42,350.26" fill="#222222"/>
<path d="M216.6 360.6V366.2M213.6 360.6H219.6M213.6 366.2H219.6" stroke="#000000" stroke-width="1.5" fill="none"/>
<polygon points="216.6,360.5 217.45,362.23 219.36,362.5 217.98,363.85 218.3,365.75 216.6,364.85 214.9,365.75 215.22,363.85 213.84,362.5 215.75,362.23" fill="#000"/>
<polygon points="213.7,352.68 214.38,354.26 216.1,354.42 214.8,355.56 215.18,357.24 213.7,356.36 212.22,357.24 212.6,355.56 211.3,354.42 213.02,354.26" fill="#222222"/>
<polygon points="219.5,352.68 220.18,354.26 221.9,354.42 220.6,355.56 220.98,357.24 219.5,356.36 218.02,357.24 218.4,355.56 217.1,354.42 218.82,354.26" fill="#222222"/>
<path d="M225.8 287.1V321.3M222.8 287.1H228.8M222.8 321.3H228.8" stroke="#000000" stroke-width="1.5" fill="none"/>
<polygon points="225.8,301.3 226.65,303.03 228.56,303.3 227.18,304.65 227.5,306.55 225.8,305.65 224.1,306.55 224.42,304.65 223.04,303.3 224.95,303.03" fill="#000"/>
<polygon points="222.6,275.58 223.28,277.16 225,277.32 223.7,278.46 224.08,280.14 222.6,279.26 221.12,280.14 221.5,278.46 220.2,277.32 221.92,277.16" fill="#222222"/>
<polygon points="228.5,275.58 229.18,277.16 230.9,277.32 229.6,278.46 229.98,280.14 228.5,279.26 227.02,280.14 227.4,278.46 226.1,277.32 227.82,277.16" fill="#222222"/>
<path d="M238.2 378.7V384.1M235.2 378.7H241.2M235.2 384.1H241.2" stroke="#a8a8a8" stroke-width="1.6" fill="none"/>
<path d="M235.3 381.4H241.1M238.2 378.5V384.3" stroke="#000" stroke-width="1.7"/>
<path d="M247.2 370V375.6M244.2 370H250.2M244.2 375.6H250.2" stroke="#a8a8a8" stroke-width="1.6" fill="none"/>
<path d="M244.3 372.8H250.1M247.2 369.9V375.7" stroke="#000" stroke-width="1.7"/>
<text x="297.3" y="259" font-size="19.4" font-weight="bold">D</text>
<text x="441.5" y="280" font-size="14" font-weight="bold" text-anchor="middle">S</text>
<g transform="translate(317.7 354) rotate(-90)" font-size="11.9" font-weight="bold"><text x="-69.11" y="0">SOD</text><path transform="translate(-43.32 0) scale(0.00581 -0.00581)" d="M478 0V1170L140 959V1180L493 1409H759V0Z"/><text x="-36.7" y="0"> mRNA expression</text></g>
<path d="M337.35 280.6V426.4H556.2" stroke="#000" stroke-width="1.5" fill="none"/>
<path d="M333.05 426.4H337.35" stroke="#000" stroke-width="1.4"/>
<g transform="translate(331.2 430.7)" font-size="11" font-weight="bold"><text x="-6.12" y="0">0</text></g>
<path d="M333.05 377.8H337.35" stroke="#000" stroke-width="1.4"/>
<g transform="translate(331.2 382.1)" font-size="11" font-weight="bold"><path transform="translate(-6.12 0) scale(0.00537 -0.00537)" d="M478 0V1170L140 959V1180L493 1409H759V0Z"/></g>
<path d="M333.05 329.2H337.35" stroke="#000" stroke-width="1.4"/>
<g transform="translate(331.2 333.5)" font-size="11" font-weight="bold"><text x="-6.12" y="0">2</text></g>
<path d="M333.05 280.6H337.35" stroke="#000" stroke-width="1.4"/>
<g transform="translate(331.2 284.9)" font-size="11" font-weight="bold"><text x="-6.12" y="0">3</text></g>
<path d="M343.4 426.4V430.7" stroke="#000" stroke-width="1.4"/>
<g transform="translate(345.6 432.9) rotate(-90)" font-size="8" font-weight="bold"><text x="-24" y="0">DMSO</text></g>
<path d="M355.4 426.4V430.7" stroke="#000" stroke-width="1.4"/>
<g transform="translate(357.6 432.9) rotate(-90)" font-size="8" font-weight="bold"><text x="-11.12" y="0">0.3</text></g>
<path d="M364.6 426.4V430.7" stroke="#000" stroke-width="1.4"/>
<g transform="translate(366.8 432.9) rotate(-90)" font-size="8" font-weight="bold"><path transform="translate(-4.45 0) scale(0.00391 -0.00391)" d="M478 0V1170L140 959V1180L493 1409H759V0Z"/></g>
<path d="M373.7 426.4V430.7" stroke="#000" stroke-width="1.4"/>
<g transform="translate(375.9 432.9) rotate(-90)" font-size="8" font-weight="bold"><text x="-4.45" y="0">3</text></g>
<path d="M382.8 426.4V430.7" stroke="#000" stroke-width="1.4"/>
<g transform="translate(385 432.9) rotate(-90)" font-size="8" font-weight="bold"><path transform="translate(-8.9 0) scale(0.00391 -0.00391)" d="M478 0V1170L140 959V1180L493 1409H759V0Z"/><text x="-4.45" y="0">0</text></g>
<path d="M391.8 426.4V430.7" stroke="#000" stroke-width="1.4"/>
<g transform="translate(394 432.9) rotate(-90)" font-size="8" font-weight="bold"><text x="-8.9" y="0">30</text></g>
<path d="M400.95 426.4V430.7" stroke="#000" stroke-width="1.4"/>
<g transform="translate(403.15 432.9) rotate(-90)" font-size="8" font-weight="bold"><path transform="translate(-13.35 0) scale(0.00391 -0.00391)" d="M478 0V1170L140 959V1180L493 1409H759V0Z"/><text x="-8.9" y="0">00</text></g>
<path d="M413 426.4V430.7" stroke="#000" stroke-width="1.4"/>
<g transform="translate(415.2 432.9) rotate(-90)" font-size="8" font-weight="bold"><path transform="translate(-4.45 0) scale(0.00391 -0.00391)" d="M478 0V1170L140 959V1180L493 1409H759V0Z"/></g>
<path d="M422.1 426.4V430.7" stroke="#000" stroke-width="1.4"/>
<g transform="translate(424.3 432.9) rotate(-90)" font-size="8" font-weight="bold"><text x="-4.45" y="0">3</text></g>
<path d="M431.3 426.4V430.7" stroke="#000" stroke-width="1.4"/>
<g transform="translate(433.5 432.9) rotate(-90)" font-size="8" font-weight="bold"><path transform="translate(-8.9 0) scale(0.00391 -0.00391)" d="M478 0V1170L140 959V1180L493 1409H759V0Z"/><text x="-4.45" y="0">0</text></g>
<path d="M440.5 426.4V430.7" stroke="#000" stroke-width="1.4"/>
<g transform="translate(442.7 432.9) rotate(-90)" font-size="8" font-weight="bold"><text x="-8.9" y="0">30</text></g>
<path d="M449.6 426.4V430.7" stroke="#000" stroke-width="1.4"/>
<g transform="translate(451.8 432.9) rotate(-90)" font-size="8" font-weight="bold"><path transform="translate(-13.35 0) scale(0.00391 -0.00391)" d="M478 0V1170L140 959V1180L493 1409H759V0Z"/><text x="-8.9" y="0">00</text></g>
<path d="M458.8 426.4V430.7" stroke="#000" stroke-width="1.4"/>
<g transform="translate(461 432.9) rotate(-90)" font-size="8" font-weight="bold"><path transform="translate(-17.8 0) scale(0.00391 -0.00391)" d="M478 0V1170L140 959V1180L493 1409H759V0Z"/><text x="-13.35" y="0">000</text></g>
<path d="M470.9 426.4V430.7" stroke="#000" stroke-width="1.4"/>
<g transform="translate(473.1 432.9) rotate(-90)" font-size="8" font-weight="bold"><text x="-11.12" y="0">0.3</text></g>
<path d="M480 426.4V430.7" stroke="#000" stroke-width="1.4"/>
<g transform="translate(482.2 432.9) rotate(-90)" font-size="8" font-weight="bold"><path transform="translate(-4.45 0) scale(0.00391 -0.00391)" d="M478 0V1170L140 959V1180L493 1409H759V0Z"/></g>
<path d="M489.1 426.4V430.7" stroke="#000" stroke-width="1.4"/>
<g transform="translate(491.3 432.9) rotate(-90)" font-size="8" font-weight="bold"><text x="-4.45" y="0">3</text></g>
<path d="M498.2 426.4V430.7" stroke="#000" stroke-width="1.4"/>
<g transform="translate(500.4 432.9) rotate(-90)" font-size="8" font-weight="bold"><path transform="translate(-8.9 0) scale(0.00391 -0.00391)" d="M478 0V1170L140 959V1180L493 1409H759V0Z"/><text x="-4.45" y="0">0</text></g>
<path d="M507.2 426.4V430.7" stroke="#000" stroke-width="1.4"/>
<g transform="translate(509.4 432.9) rotate(-90)" font-size="8" font-weight="bold"><text x="-8.9" y="0">30</text></g>
<path d="M519.2 426.4V430.7" stroke="#000" stroke-width="1.4"/>
<g transform="translate(521.4 432.9) rotate(-90)" font-size="8" font-weight="bold"><path transform="translate(-17.8 0) scale(0.00391 -0.00391)" d="M478 0V1170L140 959V1180L493 1409H759V0Z"/><text x="-13.35" y="0">000</text></g>
<path d="M528.4 426.4V430.7" stroke="#000" stroke-width="1.4"/>
<g transform="translate(530.6 432.9) rotate(-90)" font-size="8" font-weight="bold"><path transform="translate(-22.25 0) scale(0.00391 -0.00391)" d="M478 0V1170L140 959V1180L493 1409H759V0Z"/><text x="-17.8" y="0">0000</text></g>
<path d="M540.8 426.4V430.7" stroke="#000" stroke-width="1.4"/>
<g transform="translate(543 432.9) rotate(-90)" font-size="8" font-weight="bold"><path transform="translate(-17.8 0) scale(0.00391 -0.00391)" d="M478 0V1170L140 959V1180L493 1409H759V0Z"/><text x="-13.35" y="0">000</text></g>
<path d="M549.8 426.4V430.7" stroke="#000" stroke-width="1.4"/>
<g transform="translate(552 432.9) rotate(-90)" font-size="8" font-weight="bold"><path transform="translate(-22.25 0) scale(0.00391 -0.00391)" d="M478 0V1170L140 959V1180L493 1409H759V0Z"/><text x="-17.8" y="0">0000</text></g>
<text x="446.3" y="472.9" font-size="12" font-weight="bold" text-anchor="middle">Concentration (nM)</text>
<circle cx="343.4" cy="377.6" r="3.1" fill="#000"/>
<path d="M355.4 370.5L358.4 375.9L352.4 375.9Z" stroke="#ff0000" stroke-width="1.5" fill="#fff" stroke-linejoin="miter"/>
<path d="M355.4 369.6V376.8M352.4 369.6H358.4M352.4 376.8H358.4" stroke="#ff0000" stroke-width="1.4" fill="none"/>
<path d="M364.6 366.9L367.6 372.3L361.6 372.3Z" stroke="#ff0000" stroke-width="1.5" fill="#fff" stroke-linejoin="miter"/>
<path d="M364.6 365.9V373.3M361.6 365.9H367.6M361.6 373.3H367.6" stroke="#ff0000" stroke-width="1.4" fill="none"/>
<path d="M373.7 364.7L376.7 370.1L370.7 370.1Z" stroke="#ff0000" stroke-width="1.5" fill="#fff" stroke-linejoin="miter"/>
<path d="M373.7 363V371.8M370.7 363H376.7M370.7 371.8H376.7" stroke="#ff0000" stroke-width="1.4" fill="none"/>
<path d="M382.8 359.5L385.8 364.9L379.8 364.9Z" stroke="#ff0000" stroke-width="1.5" fill="#fff" stroke-linejoin="miter"/>
<path d="M382.8 357.7V366.7M379.8 357.7H385.8M379.8 366.7H385.8" stroke="#ff0000" stroke-width="1.4" fill="none"/>
<path d="M391.8 356.6L394.8 362L388.8 362Z" stroke="#ff0000" stroke-width="1.5" fill="#fff" stroke-linejoin="miter"/>
<path d="M391.8 354.8V363.8M388.8 354.8H394.8M388.8 363.8H394.8" stroke="#ff0000" stroke-width="1.4" fill="none"/>
<polygon points="391.7,338.28 392.38,339.86 394.1,340.02 392.8,341.16 393.18,342.84 391.7,341.96 390.22,342.84 390.6,341.16 389.3,340.02 391.02,339.86" fill="#222222"/>
<path d="M400.95 341.3L403.95 346.7L397.95 346.7Z" stroke="#ff0000" stroke-width="1.5" fill="#fff" stroke-linejoin="miter"/>
<path d="M400.95 335.5V352.4M397.95 335.5H403.95M397.95 352.4H403.95" stroke="#ff0000" stroke-width="1.4" fill="none"/>
<rect x="410.25" y="379.35" width="5.5" height="5.5" stroke="#0000ff" stroke-width="1.7" fill="#fff"/>
<path d="M413 379.5V384.7M410 379.5H416M410 384.7H416" stroke="#0000ff" stroke-width="1.4" fill="none"/>
<rect x="419.35" y="377.35" width="5.5" height="5.5" stroke="#0000ff" stroke-width="1.7" fill="#fff"/>
<path d="M422.1 377.5V382.7M419.1 377.5H425.1M419.1 382.7H425.1" stroke="#0000ff" stroke-width="1.4" fill="none"/>
<rect x="428.55" y="370.95" width="5.5" height="5.5" stroke="#0000ff" stroke-width="1.7" fill="#fff"/>
<path d="M431.3 371.1V376.3M428.3 371.1H434.3M428.3 376.3H434.3" stroke="#0000ff" stroke-width="1.4" fill="none"/>
<rect x="437.75" y="369.85" width="5.5" height="5.5" stroke="#0000ff" stroke-width="1.7" fill="#fff"/>
<path d="M440.5 370V375.2M437.5 370H443.5M437.5 375.2H443.5" stroke="#0000ff" stroke-width="1.4" fill="none"/>
<rect x="446.85" y="366.15" width="5.5" height="5.5" stroke="#0000ff" stroke-width="1.7" fill="#fff"/>
<path d="M449.6 366.3V371.5M446.6 366.3H452.6M446.6 371.5H452.6" stroke="#0000ff" stroke-width="1.4" fill="none"/>
<rect x="456.05" y="360.25" width="5.5" height="5.5" stroke="#0000ff" stroke-width="1.7" fill="#fff"/>
<path d="M458.8 357.3V368.6M455.8 357.3H461.8M455.8 368.6H461.8" stroke="#0000ff" stroke-width="1.4" fill="none"/>
<path d="M470.9 375.2L473.9 378.2L470.9 381.2L467.9 378.2Z" stroke="#00f000" stroke-width="1.8" fill="#fff"/>
<path d="M470.9 373.7V382.6M467.9 373.7H473.9M467.9 382.6H473.9" stroke="#00f000" stroke-width="1.4" fill="none"/>
<path d="M480 370.8L483 373.8L480 376.8L477 373.8Z" stroke="#00f000" stroke-width="1.8" fill="#fff"/>
<path d="M480 369.4V378.2M477 369.4H483M477 378.2H483" stroke="#00f000" stroke-width="1.4" fill="none"/>
<path d="M489.1 367.8L492.1 370.8L489.1 373.8L486.1 370.8Z" stroke="#00f000" stroke-width="1.8" fill="#fff"/>
<path d="M489.1 366.5V375M486.1 366.5H492.1M486.1 375H492.1" stroke="#00f000" stroke-width="1.4" fill="none"/>
<path d="M498.2 360.7L501.2 363.7L498.2 366.7L495.2 363.7Z" stroke="#00f000" stroke-width="1.8" fill="#fff"/>
<path d="M498.2 359.3V368.1M495.2 359.3H501.2M495.2 368.1H501.2" stroke="#00f000" stroke-width="1.4" fill="none"/>
<path d="M507.2 357.7L510.2 360.7L507.2 363.7L504.2 360.7Z" stroke="#00f000" stroke-width="1.8" fill="#fff"/>
<path d="M507.2 356.5V364.9M504.2 356.5H510.2M504.2 364.9H510.2" stroke="#00f000" stroke-width="1.4" fill="none"/>
<path d="M519.2 358.4V368M516.2 358.4H522.2M516.2 368H522.2" stroke="#000000" stroke-width="1.5" fill="none"/>
<polygon points="519.2,360.3 520.05,362.03 521.96,362.3 520.58,363.65 520.9,365.55 519.2,364.65 517.5,365.55 517.82,363.65 516.44,362.3 518.35,362.03" fill="#000"/>
<path d="M528.4 288.4V316.9M525.4 288.4H531.4M525.4 316.9H531.4" stroke="#000000" stroke-width="1.5" fill="none"/>
<polygon points="528.4,299.7 529.25,301.43 531.16,301.7 529.78,303.05 530.1,304.95 528.4,304.05 526.7,304.95 527.02,303.05 525.64,301.7 527.55,301.43" fill="#000"/>
<polygon points="528.6,270.58 529.28,272.16 531,272.32 529.7,273.46 530.08,275.14 528.6,274.26 527.12,275.14 527.5,273.46 526.2,272.32 527.92,272.16" fill="#222222"/>
<path d="M540.8 375V382M537.8 375H543.8M537.8 382H543.8" stroke="#a8a8a8" stroke-width="1.6" fill="none"/>
<path d="M537.9 378.5H543.7M540.8 375.6V381.4" stroke="#000" stroke-width="1.7"/>
<path d="M549.8 365.4V374.6M546.8 365.4H552.8M546.8 374.6H552.8" stroke="#a8a8a8" stroke-width="1.6" fill="none"/>
<path d="M546.9 370H552.7M549.8 367.1V372.9" stroke="#000" stroke-width="1.7"/>
<text x="2" y="518" font-size="19.4" font-weight="bold">E</text>
<text x="131.8" y="541" font-size="14" font-weight="bold" text-anchor="middle">COPD</text>
<g transform="translate(15.1 620) rotate(-90)" font-size="11.9" font-weight="bold"><text x="-76.71" y="0">TXNRD</text><path transform="translate(-35.72 0) scale(0.00581 -0.00581)" d="M478 0V1170L140 959V1180L493 1409H759V0Z"/><text x="-29.1" y="0"> mRNA expression</text></g>
<path d="M34.75 546.6V692.4H253.6" stroke="#000" stroke-width="1.5" fill="none"/>
<path d="M30.45 692.4H34.75" stroke="#000" stroke-width="1.4"/>
<g transform="translate(28.6 696.7)" font-size="11" font-weight="bold"><text x="-6.12" y="0">0</text></g>
<path d="M30.45 643.8H34.75" stroke="#000" stroke-width="1.4"/>
<g transform="translate(28.6 648.1)" font-size="11" font-weight="bold"><text x="-6.12" y="0">2</text></g>
<path d="M30.45 595.2H34.75" stroke="#000" stroke-width="1.4"/>
<g transform="translate(28.6 599.5)" font-size="11" font-weight="bold"><text x="-6.12" y="0">4</text></g>
<path d="M30.45 546.6H34.75" stroke="#000" stroke-width="1.4"/>
<g transform="translate(28.6 550.9)" font-size="11" font-weight="bold"><text x="-6.12" y="0">6</text></g>
<path d="M40.8 692.4V696.7" stroke="#000" stroke-width="1.4"/>
<g transform="translate(43 698.9) rotate(-90)" font-size="8" font-weight="bold"><text x="-24" y="0">DMSO</text></g>
<path d="M52.8 692.4V696.7" stroke="#000" stroke-width="1.4"/>
<g transform="translate(55 698.9) rotate(-90)" font-size="8" font-weight="bold"><text x="-11.12" y="0">0.3</text></g>
<path d="M62 692.4V696.7" stroke="#000" stroke-width="1.4"/>
<g transform="translate(64.2 698.9) rotate(-90)" font-size="8" font-weight="bold"><path transform="translate(-4.45 0) scale(0.00391 -0.00391)" d="M478 0V1170L140 959V1180L493 1409H759V0Z"/></g>
<path d="M71.1 692.4V696.7" stroke="#000" stroke-width="1.4"/>
<g transform="translate(73.3 698.9) rotate(-90)" font-size="8" font-weight="bold"><text x="-4.45" y="0">3</text></g>
<path d="M80.2 692.4V696.7" stroke="#000" stroke-width="1.4"/>
<g transform="translate(82.4 698.9) rotate(-90)" font-size="8" font-weight="bold"><path transform="translate(-8.9 0) scale(0.00391 -0.00391)" d="M478 0V1170L140 959V1180L493 1409H759V0Z"/><text x="-4.45" y="0">0</text></g>
<path d="M89.2 692.4V696.7" stroke="#000" stroke-width="1.4"/>
<g transform="translate(91.4 698.9) rotate(-90)" font-size="8" font-weight="bold"><text x="-8.9" y="0">30</text></g>
<path d="M98.35 692.4V696.7" stroke="#000" stroke-width="1.4"/>
<g transform="translate(100.55 698.9) rotate(-90)" font-size="8" font-weight="bold"><path transform="translate(-13.35 0) scale(0.00391 -0.00391)" d="M478 0V1170L140 959V1180L493 1409H759V0Z"/><text x="-8.9" y="0">00</text></g>
<path d="M110.4 692.4V696.7" stroke="#000" stroke-width="1.4"/>
<g transform="translate(112.6 698.9) rotate(-90)" font-size="8" font-weight="bold"><path transform="translate(-4.45 0) scale(0.00391 -0.00391)" d="M478 0V1170L140 959V1180L493 1409H759V0Z"/></g>
<path d="M119.5 692.4V696.7" stroke="#000" stroke-width="1.4"/>
<g transform="translate(121.7 698.9) rotate(-90)" font-size="8" font-weight="bold"><text x="-4.45" y="0">3</text></g>
<path d="M128.7 692.4V696.7" stroke="#000" stroke-width="1.4"/>
<g transform="translate(130.9 698.9) rotate(-90)" font-size="8" font-weight="bold"><path transform="translate(-8.9 0) scale(0.00391 -0.00391)" d="M478 0V1170L140 959V1180L493 1409H759V0Z"/><text x="-4.45" y="0">0</text></g>
<path d="M137.9 692.4V696.7" stroke="#000" stroke-width="1.4"/>
<g transform="translate(140.1 698.9) rotate(-90)" font-size="8" font-weight="bold"><text x="-8.9" y="0">30</text></g>
<path d="M147 692.4V696.7" stroke="#000" stroke-width="1.4"/>
<g transform="translate(149.2 698.9) rotate(-90)" font-size="8" font-weight="bold"><path transform="translate(-13.35 0) scale(0.00391 -0.00391)" d="M478 0V1170L140 959V1180L493 1409H759V0Z"/><text x="-8.9" y="0">00</text></g>
<path d="M156.2 692.4V696.7" stroke="#000" stroke-width="1.4"/>
<g transform="translate(158.4 698.9) rotate(-90)" font-size="8" font-weight="bold"><path transform="translate(-17.8 0) scale(0.00391 -0.00391)" d="M478 0V1170L140 959V1180L493 1409H759V0Z"/><text x="-13.35" y="0">000</text></g>
<path d="M168.3 692.4V696.7" stroke="#000" stroke-width="1.4"/>
<g transform="translate(170.5 698.9) rotate(-90)" font-size="8" font-weight="bold"><text x="-11.12" y="0">0.3</text></g>
<path d="M177.4 692.4V696.7" stroke="#000" stroke-width="1.4"/>
<g transform="translate(179.6 698.9) rotate(-90)" font-size="8" font-weight="bold"><path transform="translate(-4.45 0) scale(0.00391 -0.00391)" d="M478 0V1170L140 959V1180L493 1409H759V0Z"/></g>
<path d="M186.5 692.4V696.7" stroke="#000" stroke-width="1.4"/>
<g transform="translate(188.7 698.9) rotate(-90)" font-size="8" font-weight="bold"><text x="-4.45" y="0">3</text></g>
<path d="M195.6 692.4V696.7" stroke="#000" stroke-width="1.4"/>
<g transform="translate(197.8 698.9) rotate(-90)" font-size="8" font-weight="bold"><path transform="translate(-8.9 0) scale(0.00391 -0.00391)" d="M478 0V1170L140 959V1180L493 1409H759V0Z"/><text x="-4.45" y="0">0</text></g>
<path d="M204.6 692.4V696.7" stroke="#000" stroke-width="1.4"/>
<g transform="translate(206.8 698.9) rotate(-90)" font-size="8" font-weight="bold"><text x="-8.9" y="0">30</text></g>
<path d="M216.6 692.4V696.7" stroke="#000" stroke-width="1.4"/>
<g transform="translate(218.8 698.9) rotate(-90)" font-size="8" font-weight="bold"><path transform="translate(-17.8 0) scale(0.00391 -0.00391)" d="M478 0V1170L140 959V1180L493 1409H759V0Z"/><text x="-13.35" y="0">000</text></g>
<path d="M225.8 692.4V696.7" stroke="#000" stroke-width="1.4"/>
<g transform="translate(228 698.9) rotate(-90)" font-size="8" font-weight="bold"><path transform="translate(-22.25 0) scale(0.00391 -0.00391)" d="M478 0V1170L140 959V1180L493 1409H759V0Z"/><text x="-17.8" y="0">0000</text></g>
<path d="M238.2 692.4V696.7" stroke="#000" stroke-width="1.4"/>
<g transform="translate(240.4 698.9) rotate(-90)" font-size="8" font-weight="bold"><path transform="translate(-17.8 0) scale(0.00391 -0.00391)" d="M478 0V1170L140 959V1180L493 1409H759V0Z"/><text x="-13.35" y="0">000</text></g>
<path d="M247.2 692.4V696.7" stroke="#000" stroke-width="1.4"/>
<g transform="translate(249.4 698.9) rotate(-90)" font-size="8" font-weight="bold"><path transform="translate(-22.25 0) scale(0.00391 -0.00391)" d="M478 0V1170L140 959V1180L493 1409H759V0Z"/><text x="-17.8" y="0">0000</text></g>
<text x="143.7" y="738.9" font-size="12" font-weight="bold" text-anchor="middle">Concentration (nM)</text>
<circle cx="40.8" cy="668.2" r="3.1" fill="#000"/>
<path d="M52.8 663L55.8 668.4L49.8 668.4Z" stroke="#ff0000" stroke-width="1.5" fill="#fff" stroke-linejoin="miter"/>
<path d="M52.8 663.1V668.3M49.8 663.1H55.8M49.8 668.3H55.8" stroke="#ff0000" stroke-width="1.4" fill="none"/>
<path d="M62 660.2L65 665.6L59 665.6Z" stroke="#ff0000" stroke-width="1.5" fill="#fff" stroke-linejoin="miter"/>
<path d="M62 660.3V665.5M59 660.3H65M59 665.5H65" stroke="#ff0000" stroke-width="1.4" fill="none"/>
<path d="M71.1 653.8L74.1 659.2L68.1 659.2Z" stroke="#ff0000" stroke-width="1.5" fill="#fff" stroke-linejoin="miter"/>
<path d="M71.1 653.4V659.6M68.1 653.4H74.1M68.1 659.6H74.1" stroke="#ff0000" stroke-width="1.4" fill="none"/>
<polygon points="70.5,644.08 71.18,645.66 72.9,645.82 71.6,646.96 71.98,648.64 70.5,647.76 69.02,648.64 69.4,646.96 68.1,645.82 69.82,645.66" fill="#222222"/>
<path d="M80.2 646.6L83.2 652L77.2 652Z" stroke="#ff0000" stroke-width="1.5" fill="#fff" stroke-linejoin="miter"/>
<path d="M80.2 645.3V653.3M77.2 645.3H83.2M77.2 653.3H83.2" stroke="#ff0000" stroke-width="1.4" fill="none"/>
<polygon points="79.9,637.48 80.58,639.06 82.3,639.22 81,640.36 81.38,642.04 79.9,641.16 78.42,642.04 78.8,640.36 77.5,639.22 79.22,639.06" fill="#222222"/>
<path d="M89.2 640.8L92.2 646.2L86.2 646.2Z" stroke="#ff0000" stroke-width="1.5" fill="#fff" stroke-linejoin="miter"/>
<path d="M89.2 638.8V648.3M86.2 638.8H92.2M86.2 648.3H92.2" stroke="#ff0000" stroke-width="1.4" fill="none"/>
<polygon points="86.3,628.18 86.98,629.76 88.7,629.92 87.4,631.06 87.78,632.74 86.3,631.86 84.82,632.74 85.2,631.06 83.9,629.92 85.62,629.76" fill="#222222"/>
<polygon points="92,628.18 92.68,629.76 94.4,629.92 93.1,631.06 93.48,632.74 92,631.86 90.52,632.74 90.9,631.06 89.6,629.92 91.32,629.76" fill="#222222"/>
<path d="M98.35 633.9L101.35 639.3L95.35 639.3Z" stroke="#ff0000" stroke-width="1.5" fill="#fff" stroke-linejoin="miter"/>
<path d="M98.35 631.7V641.5M95.35 631.7H101.35M95.35 641.5H101.35" stroke="#ff0000" stroke-width="1.4" fill="none"/>
<polygon points="95.8,619.78 96.48,621.36 98.2,621.52 96.9,622.66 97.28,624.34 95.8,623.46 94.32,624.34 94.7,622.66 93.4,621.52 95.12,621.36" fill="#222222"/>
<polygon points="101.4,619.78 102.08,621.36 103.8,621.52 102.5,622.66 102.88,624.34 101.4,623.46 99.92,624.34 100.3,622.66 99,621.52 100.72,621.36" fill="#222222"/>
<rect x="107.65" y="663.05" width="5.5" height="5.5" stroke="#0000ff" stroke-width="1.7" fill="#fff"/>
<path d="M110.4 664.8V666.8M107.4 664.8H113.4M107.4 666.8H113.4" stroke="#0000ff" stroke-width="1.4" fill="none"/>
<rect x="116.75" y="660.65" width="5.5" height="5.5" stroke="#0000ff" stroke-width="1.7" fill="#fff"/>
<path d="M119.5 661.9V664.9M116.5 661.9H122.5M116.5 664.9H122.5" stroke="#0000ff" stroke-width="1.4" fill="none"/>
<rect x="125.95" y="651.05" width="5.5" height="5.5" stroke="#0000ff" stroke-width="1.7" fill="#fff"/>
<path d="M128.7 651.2V656.4M125.7 651.2H131.7M125.7 656.4H131.7" stroke="#0000ff" stroke-width="1.4" fill="none"/>
<polygon points="126.2,641.18 126.88,642.76 128.6,642.92 127.3,644.06 127.68,645.74 126.2,644.86 124.72,645.74 125.1,644.06 123.8,642.92 125.52,642.76" fill="#222222"/>
<polygon points="131.6,641.18 132.28,642.76 134,642.92 132.7,644.06 133.08,645.74 131.6,644.86 130.12,645.74 130.5,644.06 129.2,642.92 130.92,642.76" fill="#222222"/>
<rect x="135.15" y="642.25" width="5.5" height="5.5" stroke="#0000ff" stroke-width="1.7" fill="#fff"/>
<path d="M137.9 642.4V647.6M134.9 642.4H140.9M134.9 647.6H140.9" stroke="#0000ff" stroke-width="1.4" fill="none"/>
<polygon points="131.6,634.08 132.28,635.66 134,635.82 132.7,636.96 133.08,638.64 131.6,637.76 130.12,638.64 130.5,636.96 129.2,635.82 130.92,635.66" fill="#222222"/>
<polygon points="136.9,634.08 137.58,635.66 139.3,635.82 138,636.96 138.38,638.64 136.9,637.76 135.42,638.64 135.8,636.96 134.5,635.82 136.22,635.66" fill="#222222"/>
<polygon points="142.2,634.08 142.88,635.66 144.6,635.82 143.3,636.96 143.68,638.64 142.2,637.76 140.72,638.64 141.1,636.96 139.8,635.82 141.52,635.66" fill="#222222"/>
<rect x="144.25" y="637.35" width="5.5" height="5.5" stroke="#0000ff" stroke-width="1.7" fill="#fff"/>
<path d="M147 637.5V642.7M144 637.5H150M144 642.7H150" stroke="#0000ff" stroke-width="1.4" fill="none"/>
<polygon points="142.2,627.68 142.88,629.26 144.6,629.42 143.3,630.56 143.68,632.24 142.2,631.36 140.72,632.24 141.1,630.56 139.8,629.42 141.52,629.26" fill="#222222"/>
<polygon points="147.7,627.68 148.38,629.26 150.1,629.42 148.8,630.56 149.18,632.24 147.7,631.36 146.22,632.24 146.6,630.56 145.3,629.42 147.02,629.26" fill="#222222"/>
<polygon points="153,627.68 153.68,629.26 155.4,629.42 154.1,630.56 154.48,632.24 153,631.36 151.52,632.24 151.9,630.56 150.6,629.42 152.32,629.26" fill="#222222"/>
<rect x="153.45" y="620.55" width="5.5" height="5.5" stroke="#0000ff" stroke-width="1.7" fill="#fff"/>
<path d="M156.2 620.7V625.9M153.2 620.7H159.2M153.2 625.9H159.2" stroke="#0000ff" stroke-width="1.4" fill="none"/>
<polygon points="150.6,609.48 151.28,611.06 153,611.22 151.7,612.36 152.08,614.04 150.6,613.16 149.12,614.04 149.5,612.36 148.2,611.22 149.92,611.06" fill="#222222"/>
<polygon points="156.2,609.48 156.88,611.06 158.6,611.22 157.3,612.36 157.68,614.04 156.2,613.16 154.72,614.04 155.1,612.36 153.8,611.22 155.52,611.06" fill="#222222"/>
<polygon points="161.5,609.48 162.18,611.06 163.9,611.22 162.6,612.36 162.98,614.04 161.5,613.16 160.02,614.04 160.4,612.36 159.1,611.22 160.82,611.06" fill="#222222"/>
<path d="M168.3 658.3L171.3 661.3L168.3 664.3L165.3 661.3Z" stroke="#00f000" stroke-width="1.8" fill="#fff"/>
<path d="M168.3 658.7V663.9M165.3 658.7H171.3M165.3 663.9H171.3" stroke="#00f000" stroke-width="1.4" fill="none"/>
<path d="M177.4 653.7L180.4 656.7L177.4 659.7L174.4 656.7Z" stroke="#00f000" stroke-width="1.8" fill="#fff"/>
<path d="M177.4 654.1V659.3M174.4 654.1H180.4M174.4 659.3H180.4" stroke="#00f000" stroke-width="1.4" fill="none"/>
<polygon points="177.4,644.38 178.08,645.96 179.8,646.12 178.5,647.26 178.88,648.94 177.4,648.06 175.92,648.94 176.3,647.26 175,646.12 176.72,645.96" fill="#222222"/>
<path d="M186.5 639.1L189.5 642.1L186.5 645.1L183.5 642.1Z" stroke="#00f000" stroke-width="1.8" fill="#fff"/>
<path d="M186.5 639.5V644.7M183.5 639.5H189.5M183.5 644.7H189.5" stroke="#00f000" stroke-width="1.4" fill="none"/>
<polygon points="181.1,629.58 181.78,631.16 183.5,631.32 182.2,632.46 182.58,634.14 181.1,633.26 179.62,634.14 180,632.46 178.7,631.32 180.42,631.16" fill="#222222"/>
<polygon points="186.4,629.58 187.08,631.16 188.8,631.32 187.5,632.46 187.88,634.14 186.4,633.26 184.92,634.14 185.3,632.46 184,631.32 185.72,631.16" fill="#222222"/>
<polygon points="191.5,629.58 192.18,631.16 193.9,631.32 192.6,632.46 192.98,634.14 191.5,633.26 190.02,634.14 190.4,632.46 189.1,631.32 190.82,631.16" fill="#222222"/>
<path d="M195.6 629.9L198.6 632.9L195.6 635.9L192.6 632.9Z" stroke="#00f000" stroke-width="1.8" fill="#fff"/>
<path d="M195.6 630.3V635.5M192.6 630.3H198.6M192.6 635.5H198.6" stroke="#00f000" stroke-width="1.4" fill="none"/>
<polygon points="189.1,621.58 189.78,623.16 191.5,623.32 190.2,624.46 190.58,626.14 189.1,625.26 187.62,626.14 188,624.46 186.7,623.32 188.42,623.16" fill="#222222"/>
<polygon points="194.7,621.58 195.38,623.16 197.1,623.32 195.8,624.46 196.18,626.14 194.7,625.26 193.22,626.14 193.6,624.46 192.3,623.32 194.02,623.16" fill="#222222"/>
<polygon points="200,621.58 200.68,623.16 202.4,623.32 201.1,624.46 201.48,626.14 200,625.26 198.52,626.14 198.9,624.46 197.6,623.32 199.32,623.16" fill="#222222"/>
<path d="M204.6 624.3L207.6 627.3L204.6 630.3L201.6 627.3Z" stroke="#00f000" stroke-width="1.8" fill="#fff"/>
<path d="M204.6 624.7V629.9M201.6 624.7H207.6M201.6 629.9H207.6" stroke="#00f000" stroke-width="1.4" fill="none"/>
<polygon points="200,613.58 200.68,615.16 202.4,615.32 201.1,616.46 201.48,618.14 200,617.26 198.52,618.14 198.9,616.46 197.6,615.32 199.32,615.16" fill="#222222"/>
<polygon points="205.2,613.58 205.88,615.16 207.6,615.32 206.3,616.46 206.68,618.14 205.2,617.26 203.72,618.14 204.1,616.46 202.8,615.32 204.52,615.16" fill="#222222"/>
<polygon points="210.3,613.58 210.98,615.16 212.7,615.32 211.4,616.46 211.78,618.14 210.3,617.26 208.82,618.14 209.2,616.46 207.9,615.32 209.62,615.16" fill="#222222"/>
<path d="M216.6 656.7V662.1M213.6 656.7H219.6M213.6 662.1H219.6" stroke="#000000" stroke-width="1.5" fill="none"/>
<polygon points="216.6,656.5 217.45,658.23 219.36,658.5 217.98,659.85 218.3,661.75 216.6,660.85 214.9,661.75 215.22,659.85 213.84,658.5 215.75,658.23" fill="#000"/>
<path d="M225.8 579.9V597.1M222.8 579.9H228.8M222.8 597.1H228.8" stroke="#000000" stroke-width="1.5" fill="none"/>
<polygon points="225.8,585.6 226.65,587.33 228.56,587.6 227.18,588.95 227.5,590.85 225.8,589.95 224.1,590.85 224.42,588.95 223.04,587.6 224.95,587.33" fill="#000"/>
<polygon points="220.8,567.68 221.48,569.26 223.2,569.42 221.9,570.56 222.28,572.24 220.8,571.36 219.32,572.24 219.7,570.56 218.4,569.42 220.12,569.26" fill="#222222"/>
<polygon points="226.2,567.68 226.88,569.26 228.6,569.42 227.3,570.56 227.68,572.24 226.2,571.36 224.72,572.24 225.1,570.56 223.8,569.42 225.52,569.26" fill="#222222"/>
<polygon points="231.7,567.68 232.38,569.26 234.1,569.42 232.8,570.56 233.18,572.24 231.7,571.36 230.22,572.24 230.6,570.56 229.3,569.42 231.02,569.26" fill="#222222"/>
<path d="M238.2 663.6V668.5M235.2 663.6H241.2M235.2 668.5H241.2" stroke="#a8a8a8" stroke-width="1.6" fill="none"/>
<path d="M235.3 666H241.1M238.2 663.1V668.9" stroke="#000" stroke-width="1.7"/>
<path d="M247.2 654.3V660.2M244.2 654.3H250.2M244.2 660.2H250.2" stroke="#a8a8a8" stroke-width="1.6" fill="none"/>
<path d="M244.3 657.2H250.1M247.2 654.3V660.1" stroke="#000" stroke-width="1.7"/>
<polygon points="247.1,641.08 247.78,642.66 249.5,642.82 248.2,643.96 248.58,645.64 247.1,644.76 245.62,645.64 246,643.96 244.7,642.82 246.42,642.66" fill="#222222"/>
<text x="299" y="518" font-size="19.4" font-weight="bold">F</text>
<text x="441.4" y="546.3" font-size="14" font-weight="bold" text-anchor="middle">S</text>
<g transform="translate(317.7 620) rotate(-90)" font-size="11.9" font-weight="bold"><text x="-76.71" y="0">TXNRD</text><path transform="translate(-35.72 0) scale(0.00581 -0.00581)" d="M478 0V1170L140 959V1180L493 1409H759V0Z"/><text x="-29.1" y="0"> mRNA expression</text></g>
<path d="M337.35 546.6V692.4H556.2" stroke="#000" stroke-width="1.5" fill="none"/>
<path d="M333.05 692.4H337.35" stroke="#000" stroke-width="1.4"/>
<g transform="translate(331.2 696.7)" font-size="11" font-weight="bold"><text x="-6.12" y="0">0</text></g>
<path d="M333.05 643.8H337.35" stroke="#000" stroke-width="1.4"/>
<g transform="translate(331.2 648.1)" font-size="11" font-weight="bold"><text x="-6.12" y="0">2</text></g>
<path d="M333.05 595.2H337.35" stroke="#000" stroke-width="1.4"/>
<g transform="translate(331.2 599.5)" font-size="11" font-weight="bold"><text x="-6.12" y="0">4</text></g>
<path d="M333.05 546.6H337.35" stroke="#000" stroke-width="1.4"/>
<g transform="translate(331.2 550.9)" font-size="11" font-weight="bold"><text x="-6.12" y="0">6</text></g>
<path d="M343.4 692.4V696.7" stroke="#000" stroke-width="1.4"/>
<g transform="translate(345.6 698.9) rotate(-90)" font-size="8" font-weight="bold"><text x="-24" y="0">DMSO</text></g>
<path d="M355.4 692.4V696.7" stroke="#000" stroke-width="1.4"/>
<g transform="translate(357.6 698.9) rotate(-90)" font-size="8" font-weight="bold"><text x="-11.12" y="0">0.3</text></g>
<path d="M364.6 692.4V696.7" stroke="#000" stroke-width="1.4"/>
<g transform="translate(366.8 698.9) rotate(-90)" font-size="8" font-weight="bold"><path transform="translate(-4.45 0) scale(0.00391 -0.00391)" d="M478 0V1170L140 959V1180L493 1409H759V0Z"/></g>
<path d="M373.7 692.4V696.7" stroke="#000" stroke-width="1.4"/>
<g transform="translate(375.9 698.9) rotate(-90)" font-size="8" font-weight="bold"><text x="-4.45" y="0">3</text></g>
<path d="M382.8 692.4V696.7" stroke="#000" stroke-width="1.4"/>
<g transform="translate(385 698.9) rotate(-90)" font-size="8" font-weight="bold"><path transform="translate(-8.9 0) scale(0.00391 -0.00391)" d="M478 0V1170L140 959V1180L493 1409H759V0Z"/><text x="-4.45" y="0">0</text></g>
<path d="M391.8 692.4V696.7" stroke="#000" stroke-width="1.4"/>
<g transform="translate(394 698.9) rotate(-90)" font-size="8" font-weight="bold"><text x="-8.9" y="0">30</text></g>
<path d="M400.95 692.4V696.7" stroke="#000" stroke-width="1.4"/>
<g transform="translate(403.15 698.9) rotate(-90)" font-size="8" font-weight="bold"><path transform="translate(-13.35 0) scale(0.00391 -0.00391)" d="M478 0V1170L140 959V1180L493 1409H759V0Z"/><text x="-8.9" y="0">00</text></g>
<path d="M413 692.4V696.7" stroke="#000" stroke-width="1.4"/>
<g transform="translate(415.2 698.9) rotate(-90)" font-size="8" font-weight="bold"><path transform="translate(-4.45 0) scale(0.00391 -0.00391)" d="M478 0V1170L140 959V1180L493 1409H759V0Z"/></g>
<path d="M422.1 692.4V696.7" stroke="#000" stroke-width="1.4"/>
<g transform="translate(424.3 698.9) rotate(-90)" font-size="8" font-weight="bold"><text x="-4.45" y="0">3</text></g>
<path d="M431.3 692.4V696.7" stroke="#000" stroke-width="1.4"/>
<g transform="translate(433.5 698.9) rotate(-90)" font-size="8" font-weight="bold"><path transform="translate(-8.9 0) scale(0.00391 -0.00391)" d="M478 0V1170L140 959V1180L493 1409H759V0Z"/><text x="-4.45" y="0">0</text></g>
<path d="M440.5 692.4V696.7" stroke="#000" stroke-width="1.4"/>
<g transform="translate(442.7 698.9) rotate(-90)" font-size="8" font-weight="bold"><text x="-8.9" y="0">30</text></g>
<path d="M449.6 692.4V696.7" stroke="#000" stroke-width="1.4"/>
<g transform="translate(451.8 698.9) rotate(-90)" font-size="8" font-weight="bold"><path transform="translate(-13.35 0) scale(0.00391 -0.00391)" d="M478 0V1170L140 959V1180L493 1409H759V0Z"/><text x="-8.9" y="0">00</text></g>
<path d="M458.8 692.4V696.7" stroke="#000" stroke-width="1.4"/>
<g transform="translate(461 698.9) rotate(-90)" font-size="8" font-weight="bold"><path transform="translate(-17.8 0) scale(0.00391 -0.00391)" d="M478 0V1170L140 959V1180L493 1409H759V0Z"/><text x="-13.35" y="0">000</text></g>
<path d="M470.9 692.4V696.7" stroke="#000" stroke-width="1.4"/>
<g transform="translate(473.1 698.9) rotate(-90)" font-size="8" font-weight="bold"><text x="-11.12" y="0">0.3</text></g>
<path d="M480 692.4V696.7" stroke="#000" stroke-width="1.4"/>
<g transform="translate(482.2 698.9) rotate(-90)" font-size="8" font-weight="bold"><path transform="translate(-4.45 0) scale(0.00391 -0.00391)" d="M478 0V1170L140 959V1180L493 1409H759V0Z"/></g>
<path d="M489.1 692.4V696.7" stroke="#000" stroke-width="1.4"/>
<g transform="translate(491.3 698.9) rotate(-90)" font-size="8" font-weight="bold"><text x="-4.45" y="0">3</text></g>
<path d="M498.2 692.4V696.7" stroke="#000" stroke-width="1.4"/>
<g transform="translate(500.4 698.9) rotate(-90)" font-size="8" font-weight="bold"><path transform="translate(-8.9 0) scale(0.00391 -0.00391)" d="M478 0V1170L140 959V1180L493 1409H759V0Z"/><text x="-4.45" y="0">0</text></g>
<path d="M507.2 692.4V696.7" stroke="#000" stroke-width="1.4"/>
<g transform="translate(509.4 698.9) rotate(-90)" font-size="8" font-weight="bold"><text x="-8.9" y="0">30</text></g>
<path d="M519.2 692.4V696.7" stroke="#000" stroke-width="1.4"/>
<g transform="translate(521.4 698.9) rotate(-90)" font-size="8" font-weight="bold"><path transform="translate(-17.8 0) scale(0.00391 -0.00391)" d="M478 0V1170L140 959V1180L493 1409H759V0Z"/><text x="-13.35" y="0">000</text></g>
<path d="M528.4 692.4V696.7" stroke="#000" stroke-width="1.4"/>
<g transform="translate(530.6 698.9) rotate(-90)" font-size="8" font-weight="bold"><path transform="translate(-22.25 0) scale(0.00391 -0.00391)" d="M478 0V1170L140 959V1180L493 1409H759V0Z"/><text x="-17.8" y="0">0000</text></g>
<path d="M540.8 692.4V696.7" stroke="#000" stroke-width="1.4"/>
<g transform="translate(543 698.9) rotate(-90)" font-size="8" font-weight="bold"><path transform="translate(-17.8 0) scale(0.00391 -0.00391)" d="M478 0V1170L140 959V1180L493 1409H759V0Z"/><text x="-13.35" y="0">000</text></g>
<path d="M549.8 692.4V696.7" stroke="#000" stroke-width="1.4"/>
<g transform="translate(552 698.9) rotate(-90)" font-size="8" font-weight="bold"><path transform="translate(-22.25 0) scale(0.00391 -0.00391)" d="M478 0V1170L140 959V1180L493 1409H759V0Z"/><text x="-17.8" y="0">0000</text></g>
<text x="446.3" y="738.9" font-size="12" font-weight="bold" text-anchor="middle">Concentration (nM)</text>
<circle cx="343.4" cy="668.2" r="3.1" fill="#000"/>
<path d="M355.4 658.8L358.4 664.2L352.4 664.2Z" stroke="#ff0000" stroke-width="1.5" fill="#fff" stroke-linejoin="miter"/>
<path d="M355.4 657.9V665.1M352.4 657.9H358.4M352.4 665.1H358.4" stroke="#ff0000" stroke-width="1.4" fill="none"/>
<polygon points="355.6,651.08 356.28,652.66 358,652.82 356.7,653.96 357.08,655.64 355.6,654.76 354.12,655.64 354.5,653.96 353.2,652.82 354.92,652.66" fill="#222222"/>
<path d="M364.6 653.7L367.6 659.1L361.6 659.1Z" stroke="#ff0000" stroke-width="1.5" fill="#fff" stroke-linejoin="miter"/>
<path d="M364.6 652.8V660M361.6 652.8H367.6M361.6 660H367.6" stroke="#ff0000" stroke-width="1.4" fill="none"/>
<polygon points="362,645.38 362.68,646.96 364.4,647.12 363.1,648.26 363.48,649.94 362,649.06 360.52,649.94 360.9,648.26 359.6,647.12 361.32,646.96" fill="#222222"/>
<polygon points="367.5,645.38 368.18,646.96 369.9,647.12 368.6,648.26 368.98,649.94 367.5,649.06 366.02,649.94 366.4,648.26 365.1,647.12 366.82,646.96" fill="#222222"/>
<path d="M373.7 650.6L376.7 656L370.7 656Z" stroke="#ff0000" stroke-width="1.5" fill="#fff" stroke-linejoin="miter"/>
<path d="M373.7 649.6V657M370.7 649.6H376.7M370.7 657H376.7" stroke="#ff0000" stroke-width="1.4" fill="none"/>
<polygon points="371,641.18 371.68,642.76 373.4,642.92 372.1,644.06 372.48,645.74 371,644.86 369.52,645.74 369.9,644.06 368.6,642.92 370.32,642.76" fill="#222222"/>
<polygon points="376.5,641.18 377.18,642.76 378.9,642.92 377.6,644.06 377.98,645.74 376.5,644.86 375.02,645.74 375.4,644.06 374.1,642.92 375.82,642.76" fill="#222222"/>
<path d="M382.8 644L385.8 649.4L379.8 649.4Z" stroke="#ff0000" stroke-width="1.5" fill="#fff" stroke-linejoin="miter"/>
<path d="M382.8 643.3V650.1M379.8 643.3H385.8M379.8 650.1H385.8" stroke="#ff0000" stroke-width="1.4" fill="none"/>
<polygon points="380.2,635.38 380.88,636.96 382.6,637.12 381.3,638.26 381.68,639.94 380.2,639.06 378.72,639.94 379.1,638.26 377.8,637.12 379.52,636.96" fill="#222222"/>
<polygon points="385.6,635.38 386.28,636.96 388,637.12 386.7,638.26 387.08,639.94 385.6,639.06 384.12,639.94 384.5,638.26 383.2,637.12 384.92,636.96" fill="#222222"/>
<path d="M391.8 634.8L394.8 640.2L388.8 640.2Z" stroke="#ff0000" stroke-width="1.5" fill="#fff" stroke-linejoin="miter"/>
<path d="M391.8 634.9V640.1M388.8 634.9H394.8M388.8 640.1H394.8" stroke="#ff0000" stroke-width="1.4" fill="none"/>
<polygon points="387.1,624.08 387.78,625.66 389.5,625.82 388.2,626.96 388.58,628.64 387.1,627.76 385.62,628.64 386,626.96 384.7,625.82 386.42,625.66" fill="#222222"/>
<polygon points="392.5,624.08 393.18,625.66 394.9,625.82 393.6,626.96 393.98,628.64 392.5,627.76 391.02,628.64 391.4,626.96 390.1,625.82 391.82,625.66" fill="#222222"/>
<polygon points="398.2,624.08 398.88,625.66 400.6,625.82 399.3,626.96 399.68,628.64 398.2,627.76 396.72,628.64 397.1,626.96 395.8,625.82 397.52,625.66" fill="#222222"/>
<path d="M400.95 609.2L403.95 614.6L397.95 614.6Z" stroke="#ff0000" stroke-width="1.5" fill="#fff" stroke-linejoin="miter"/>
<path d="M400.95 605.2V618.5M397.95 605.2H403.95M397.95 618.5H403.95" stroke="#ff0000" stroke-width="1.4" fill="none"/>
<polygon points="398.2,595.68 398.88,597.26 400.6,597.42 399.3,598.56 399.68,600.24 398.2,599.36 396.72,600.24 397.1,598.56 395.8,597.42 397.52,597.26" fill="#222222"/>
<polygon points="404.1,595.68 404.78,597.26 406.5,597.42 405.2,598.56 405.58,600.24 404.1,599.36 402.62,600.24 403,598.56 401.7,597.42 403.42,597.26" fill="#222222"/>
<rect x="410.25" y="655.95" width="5.5" height="5.5" stroke="#0000ff" stroke-width="1.7" fill="#fff"/>
<path d="M413 656.1V661.3M410 656.1H416M410 661.3H416" stroke="#0000ff" stroke-width="1.4" fill="none"/>
<rect x="419.35" y="654.35" width="5.5" height="5.5" stroke="#0000ff" stroke-width="1.7" fill="#fff"/>
<path d="M422.1 654.5V659.7M419.1 654.5H425.1M419.1 659.7H425.1" stroke="#0000ff" stroke-width="1.4" fill="none"/>
<rect x="428.55" y="641.15" width="5.5" height="5.5" stroke="#0000ff" stroke-width="1.7" fill="#fff"/>
<path d="M431.3 641.3V646.5M428.3 641.3H434.3M428.3 646.5H434.3" stroke="#0000ff" stroke-width="1.4" fill="none"/>
<polygon points="430.4,630.18 431.08,631.76 432.8,631.92 431.5,633.06 431.88,634.74 430.4,633.86 428.92,634.74 429.3,633.06 428,631.92 429.72,631.76" fill="#222222"/>
<rect x="437.75" y="633.45" width="5.5" height="5.5" stroke="#0000ff" stroke-width="1.7" fill="#fff"/>
<path d="M440.5 633.6V638.8M437.5 633.6H443.5M437.5 638.8H443.5" stroke="#0000ff" stroke-width="1.4" fill="none"/>
<polygon points="436.8,619.58 437.48,621.16 439.2,621.32 437.9,622.46 438.28,624.14 436.8,623.26 435.32,624.14 435.7,622.46 434.4,621.32 436.12,621.16" fill="#222222"/>
<polygon points="441.9,619.58 442.58,621.16 444.3,621.32 443,622.46 443.38,624.14 441.9,623.26 440.42,624.14 440.8,622.46 439.5,621.32 441.22,621.16" fill="#222222"/>
<rect x="446.85" y="617.75" width="5.5" height="5.5" stroke="#0000ff" stroke-width="1.7" fill="#fff"/>
<path d="M449.6 617.9V623.1M446.6 617.9H452.6M446.6 623.1H452.6" stroke="#0000ff" stroke-width="1.4" fill="none"/>
<polygon points="443.5,603.48 444.18,605.06 445.9,605.22 444.6,606.36 444.98,608.04 443.5,607.16 442.02,608.04 442.4,606.36 441.1,605.22 442.82,605.06" fill="#222222"/>
<polygon points="448.7,603.48 449.38,605.06 451.1,605.22 449.8,606.36 450.18,608.04 448.7,607.16 447.22,608.04 447.6,606.36 446.3,605.22 448.02,605.06" fill="#222222"/>
<polygon points="454,603.48 454.68,605.06 456.4,605.22 455.1,606.36 455.48,608.04 454,607.16 452.52,608.04 452.9,606.36 451.6,605.22 453.32,605.06" fill="#222222"/>
<rect x="456.05" y="597.75" width="5.5" height="5.5" stroke="#0000ff" stroke-width="1.7" fill="#fff"/>
<path d="M458.8 593.7V607.3M455.8 593.7H461.8M455.8 607.3H461.8" stroke="#0000ff" stroke-width="1.4" fill="none"/>
<polygon points="455.6,578.28 456.28,579.86 458,580.02 456.7,581.16 457.08,582.84 455.6,581.96 454.12,582.84 454.5,581.16 453.2,580.02 454.92,579.86" fill="#222222"/>
<polygon points="461.3,578.28 461.98,579.86 463.7,580.02 462.4,581.16 462.78,582.84 461.3,581.96 459.82,582.84 460.2,581.16 458.9,580.02 460.62,579.86" fill="#222222"/>
<path d="M470.9 657.3L473.9 660.3L470.9 663.3L467.9 660.3Z" stroke="#00f000" stroke-width="1.8" fill="#fff"/>
<path d="M470.9 656.5V664M467.9 656.5H473.9M467.9 664H473.9" stroke="#00f000" stroke-width="1.4" fill="none"/>
<path d="M480 646.9L483 649.9L480 652.9L477 649.9Z" stroke="#00f000" stroke-width="1.8" fill="#fff"/>
<path d="M480 645.5V654.2M477 645.5H483M477 654.2H483" stroke="#00f000" stroke-width="1.4" fill="none"/>
<path d="M489.1 625.8L492.1 628.8L489.1 631.8L486.1 628.8Z" stroke="#00f000" stroke-width="1.8" fill="#fff"/>
<path d="M489.1 624.2V633M486.1 624.2H492.1M486.1 633H492.1" stroke="#00f000" stroke-width="1.4" fill="none"/>
<polygon points="485.6,615.68 486.28,617.26 488,617.42 486.7,618.56 487.08,620.24 485.6,619.36 484.12,620.24 484.5,618.56 483.2,617.42 484.92,617.26" fill="#222222"/>
<polygon points="490.9,615.68 491.58,617.26 493.3,617.42 492,618.56 492.38,620.24 490.9,619.36 489.42,620.24 489.8,618.56 488.5,617.42 490.22,617.26" fill="#222222"/>
<path d="M498.2 611.1L501.2 614.1L498.2 617.1L495.2 614.1Z" stroke="#00f000" stroke-width="1.8" fill="#fff"/>
<path d="M498.2 609.4V618.9M495.2 609.4H501.2M495.2 618.9H501.2" stroke="#00f000" stroke-width="1.4" fill="none"/>
<polygon points="492.5,600.28 493.18,601.86 494.9,602.02 493.6,603.16 493.98,604.84 492.5,603.96 491.02,604.84 491.4,603.16 490.1,602.02 491.82,601.86" fill="#222222"/>
<polygon points="497.7,600.28 498.38,601.86 500.1,602.02 498.8,603.16 499.18,604.84 497.7,603.96 496.22,604.84 496.6,603.16 495.3,602.02 497.02,601.86" fill="#222222"/>
<polygon points="503,600.28 503.68,601.86 505.4,602.02 504.1,603.16 504.48,604.84 503,603.96 501.52,604.84 501.9,603.16 500.6,602.02 502.32,601.86" fill="#222222"/>
<path d="M507.2 607.5L510.2 610.5L507.2 613.5L504.2 610.5Z" stroke="#00f000" stroke-width="1.8" fill="#fff"/>
<path d="M507.2 606.5V614.5M504.2 606.5H510.2M504.2 614.5H510.2" stroke="#00f000" stroke-width="1.4" fill="none"/>
<polygon points="501.7,589.48 502.38,591.06 504.1,591.22 502.8,592.36 503.18,594.04 501.7,593.16 500.22,594.04 500.6,592.36 499.3,591.22 501.02,591.06" fill="#222222"/>
<polygon points="506.7,589.48 507.38,591.06 509.1,591.22 507.8,592.36 508.18,594.04 506.7,593.16 505.22,594.04 505.6,592.36 504.3,591.22 506.02,591.06" fill="#222222"/>
<polygon points="511.8,589.48 512.48,591.06 514.2,591.22 512.9,592.36 513.28,594.04 511.8,593.16 510.32,594.04 510.7,592.36 509.4,591.22 511.12,591.06" fill="#222222"/>
<path d="M519.2 653.9V659.2M516.2 653.9H522.2M516.2 659.2H522.2" stroke="#000000" stroke-width="1.5" fill="none"/>
<polygon points="519.2,653.6 520.05,655.33 521.96,655.6 520.58,656.95 520.9,658.85 519.2,657.95 517.5,658.85 517.82,656.95 516.44,655.6 518.35,655.33" fill="#000"/>
<polygon points="519.1,645.08 519.78,646.66 521.5,646.82 520.2,647.96 520.58,649.64 519.1,648.76 517.62,649.64 518,647.96 516.7,646.82 518.42,646.66" fill="#222222"/>
<path d="M528.4 560.5V575.1M525.4 560.5H531.4M525.4 575.1H531.4" stroke="#000000" stroke-width="1.5" fill="none"/>
<polygon points="528.4,564.9 529.25,566.63 531.16,566.9 529.78,568.25 530.1,570.15 528.4,569.25 526.7,570.15 527.02,568.25 525.64,566.9 527.55,566.63" fill="#000"/>
<polygon points="522,545.48 522.68,547.06 524.4,547.22 523.1,548.36 523.48,550.04 522,549.16 520.52,550.04 520.9,548.36 519.6,547.22 521.32,547.06" fill="#222222"/>
<polygon points="527.9,545.48 528.58,547.06 530.3,547.22 529,548.36 529.38,550.04 527.9,549.16 526.42,550.04 526.8,548.36 525.5,547.22 527.22,547.06" fill="#222222"/>
<polygon points="533.5,545.48 534.18,547.06 535.9,547.22 534.6,548.36 534.98,550.04 533.5,549.16 532.02,550.04 532.4,548.36 531.1,547.22 532.82,547.06" fill="#222222"/>
<path d="M540.8 663.6V668.8M537.8 663.6H543.8M537.8 668.8H543.8" stroke="#a8a8a8" stroke-width="1.6" fill="none"/>
<path d="M537.9 666.2H543.7M540.8 663.3V669.1" stroke="#000" stroke-width="1.7"/>
<path d="M549.8 649.5V654.2M546.8 649.5H552.8M546.8 654.2H552.8" stroke="#a8a8a8" stroke-width="1.6" fill="none"/>
<path d="M546.9 652H552.7M549.8 649.1V654.9" stroke="#000" stroke-width="1.7"/>
<polygon points="549.1,640.88 549.78,642.46 551.5,642.62 550.2,643.76 550.58,645.44 549.1,644.56 547.62,645.44 548,643.76 546.7,642.62 548.42,642.46" fill="#222222"/>
<path d="M597 38.1L599.95 43.5L594.05 43.5Z" stroke="#ff0000" stroke-width="1.6" fill="#fff" stroke-linejoin="miter"/>
<text x="613.3" y="44.5" font-size="11.85" fill="#1a1a1a" xml:space="preserve"> CDDO</text>
<rect x="594.25" y="58.15" width="5.5" height="5.5" stroke="#0000ff" stroke-width="1.6" fill="#fff"/>
<text x="613.3" y="64.1" font-size="11.85" fill="#1a1a1a" xml:space="preserve">GSK7</text>
<path d="M597 77.2L600.1 80.3L597 83.4L593.9 80.3Z" stroke="#00f000" stroke-width="1.6" fill="#fff"/>
<text x="613.3" y="83.7" font-size="11.85" fill="#1a1a1a" xml:space="preserve">C4X_6665</text>
<polygon points="597,97.2 597.7,98.83 599.47,99 598.14,100.17 598.53,101.9 597,101 595.47,101.9 595.86,100.17 594.53,99 596.3,98.83" fill="#000"/>
<text x="613.3" y="103.6" font-size="11.85" fill="#1a1a1a" xml:space="preserve">Sulforaphane</text>
<path d="M594.2 119.4H599.8M597 116.6V122.2" stroke="#000" stroke-width="1.5"/>
<text x="613.3" y="123.2" font-size="11.85" fill="#1a1a1a" xml:space="preserve">MMF</text>
</svg>
</body></html>
